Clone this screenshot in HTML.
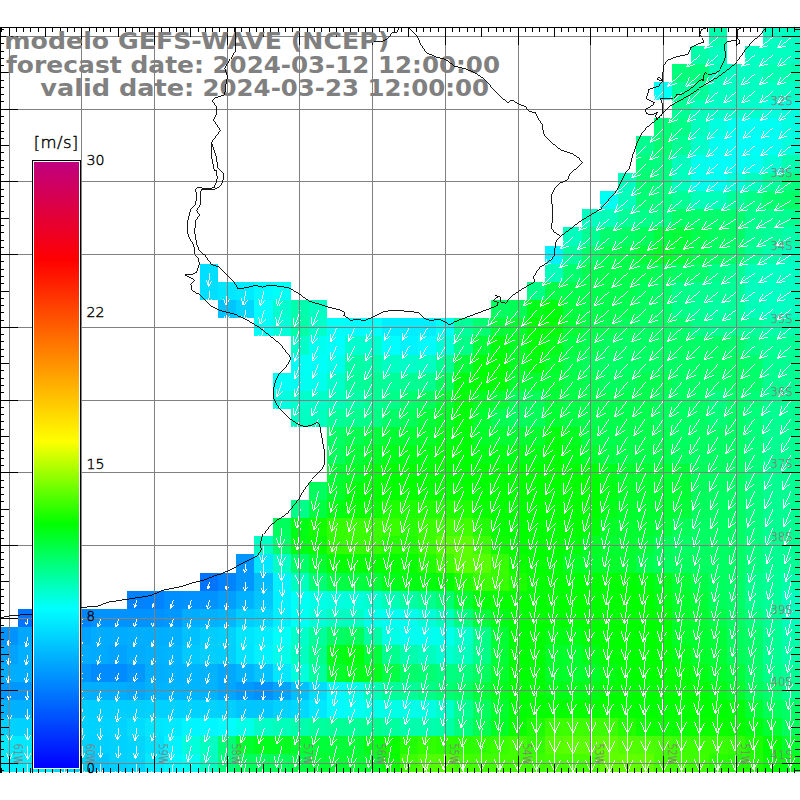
<!DOCTYPE html>
<html><head><meta charset="utf-8"><title>GEFS-WAVE</title>
<style>html,body{margin:0;padding:0;background:#fff;width:800px;height:800px;overflow:hidden}svg{display:block}text{font-family:"Liberation Sans",sans-serif}.t text{font-family:"DejaVu Sans","Liberation Sans",sans-serif;font-weight:bold;font-size:23.8px;fill:#808080}.g text{font-family:"DejaVu Sans Light","Liberation Sans",sans-serif;fill:#8a7c7c;stroke:#8a7c7c;stroke-width:0.25px;font-size:11.5px}.k text{font-family:"DejaVu Sans Light","Liberation Sans",sans-serif;fill:#000;stroke:#000;stroke-width:0.4px;font-size:14px}</style></head><body>
<svg width="800" height="800" viewBox="0 0 800 800">
<defs><linearGradient id="cb" x1="0" y1="0" x2="0" y2="1"><stop offset="0.0000" stop-color="#c0007f"/><stop offset="0.1620" stop-color="#ff0000"/><stop offset="0.4612" stop-color="#ffff00"/><stop offset="0.5289" stop-color="#80ff00"/><stop offset="0.5975" stop-color="#00ff00"/><stop offset="0.6661" stop-color="#00ff80"/><stop offset="0.7372" stop-color="#00ffff"/><stop offset="1.0000" stop-color="#0000ff"/></linearGradient><clipPath id="cp"><rect x="1" y="28" width="799" height="744"/></clipPath></defs>
<rect width="800" height="800" fill="#fff"/>
<g shape-rendering="crispEdges" clip-path="url(#cp)">
<rect x="709" y="28" width="18" height="18" fill="#00ffac"/><rect x="763" y="28" width="37" height="18" fill="#00ffc3"/>
<rect x="691" y="46" width="18" height="18" fill="#00ffa8"/><rect x="709" y="46" width="18" height="18" fill="#00ffbf"/><rect x="745" y="46" width="18" height="18" fill="#00ffc3"/><rect x="763" y="46" width="19" height="18" fill="#00ffc0"/><rect x="782" y="46" width="18" height="18" fill="#00ffc1"/>
<rect x="672" y="64" width="19" height="18" fill="#00ff7b"/><rect x="691" y="64" width="18" height="18" fill="#00ff7c"/><rect x="709" y="64" width="18" height="18" fill="#00ffb9"/><rect x="727" y="64" width="18" height="18" fill="#00ffc3"/><rect x="745" y="64" width="18" height="18" fill="#00ffc0"/><rect x="763" y="64" width="19" height="18" fill="#00ffb2"/><rect x="782" y="64" width="18" height="18" fill="#00ffaf"/>
<rect x="654" y="82" width="18" height="18" fill="#00fff6"/><rect x="672" y="82" width="19" height="18" fill="#00ff9b"/><rect x="691" y="82" width="18" height="18" fill="#00ff98"/><rect x="709" y="82" width="18" height="18" fill="#00ffbe"/><rect x="727" y="82" width="36" height="18" fill="#00ffc3"/><rect x="763" y="82" width="19" height="18" fill="#00ffc3"/><rect x="782" y="82" width="18" height="18" fill="#00ffc3"/>
<rect x="672" y="100" width="19" height="18" fill="#00ff95"/><rect x="691" y="100" width="18" height="18" fill="#00ffb9"/><rect x="709" y="100" width="18" height="18" fill="#00ffc6"/><rect x="727" y="100" width="18" height="18" fill="#00ffc8"/><rect x="745" y="100" width="18" height="18" fill="#00ffcb"/><rect x="763" y="100" width="19" height="18" fill="#00ffdb"/><rect x="782" y="100" width="18" height="18" fill="#00ffdc"/>
<rect x="654" y="118" width="18" height="18" fill="#00ff79"/><rect x="672" y="118" width="19" height="18" fill="#00ff88"/><rect x="691" y="118" width="18" height="18" fill="#00ffbe"/><rect x="709" y="118" width="18" height="18" fill="#00ffde"/><rect x="727" y="118" width="18" height="18" fill="#00fff0"/><rect x="745" y="118" width="37" height="18" fill="#00fff3"/><rect x="782" y="118" width="18" height="18" fill="#00ffe0"/>
<rect x="636" y="136" width="18" height="19" fill="#00ff8f"/><rect x="654" y="136" width="18" height="19" fill="#00ff72"/><rect x="672" y="136" width="19" height="19" fill="#00ff95"/><rect x="691" y="136" width="18" height="19" fill="#00ffc9"/><rect x="709" y="136" width="18" height="19" fill="#00fff0"/><rect x="727" y="136" width="36" height="19" fill="#00fff9"/><rect x="763" y="136" width="19" height="19" fill="#00fff3"/><rect x="782" y="136" width="18" height="19" fill="#00ffdc"/>
<rect x="636" y="155" width="18" height="18" fill="#00ff7b"/><rect x="654" y="155" width="18" height="18" fill="#00ff80"/><rect x="672" y="155" width="19" height="18" fill="#00ffbc"/><rect x="691" y="155" width="18" height="18" fill="#00ffed"/><rect x="709" y="155" width="18" height="18" fill="#00fff9"/><rect x="727" y="155" width="18" height="18" fill="#00fff6"/><rect x="745" y="155" width="18" height="18" fill="#00fff0"/><rect x="763" y="155" width="19" height="18" fill="#00ffd6"/><rect x="782" y="155" width="18" height="18" fill="#00ffaf"/>
<rect x="618" y="173" width="18" height="18" fill="#00ffbe"/><rect x="636" y="173" width="18" height="18" fill="#00ff72"/><rect x="654" y="173" width="18" height="18" fill="#00ff80"/><rect x="672" y="173" width="19" height="18" fill="#00ffbc"/><rect x="691" y="173" width="18" height="18" fill="#00ffed"/><rect x="709" y="173" width="18" height="18" fill="#00fff0"/><rect x="727" y="173" width="18" height="18" fill="#00ffd9"/><rect x="745" y="173" width="18" height="18" fill="#00ffbf"/><rect x="763" y="173" width="19" height="18" fill="#00ff98"/><rect x="782" y="173" width="18" height="18" fill="#00ff7f"/>
<rect x="600" y="191" width="18" height="18" fill="#00fff3"/><rect x="618" y="191" width="18" height="18" fill="#00ffb9"/><rect x="636" y="191" width="18" height="18" fill="#00ff74"/><rect x="654" y="191" width="18" height="18" fill="#00ff7d"/><rect x="672" y="191" width="19" height="18" fill="#00ff95"/><rect x="691" y="191" width="36" height="18" fill="#00ffb9"/><rect x="727" y="191" width="18" height="18" fill="#00ff98"/><rect x="745" y="191" width="18" height="18" fill="#00ff85"/><rect x="763" y="191" width="19" height="18" fill="#00ff6f"/><rect x="782" y="191" width="18" height="18" fill="#00ff68"/>
<rect x="582" y="209" width="18" height="18" fill="#00ffc0"/><rect x="600" y="209" width="18" height="18" fill="#00ffb9"/><rect x="618" y="209" width="18" height="18" fill="#00ff98"/><rect x="636" y="209" width="18" height="18" fill="#00ff89"/><rect x="654" y="209" width="18" height="18" fill="#00ff82"/><rect x="672" y="209" width="19" height="18" fill="#00ff67"/><rect x="691" y="209" width="18" height="18" fill="#00ff6a"/><rect x="709" y="209" width="36" height="18" fill="#00ff6c"/><rect x="745" y="209" width="18" height="18" fill="#00ff8b"/><rect x="763" y="209" width="19" height="18" fill="#00ff8e"/><rect x="782" y="209" width="18" height="18" fill="#00ff91"/>
<rect x="563" y="227" width="19" height="19" fill="#00ffbe"/><rect x="582" y="227" width="18" height="19" fill="#00ff93"/><rect x="600" y="227" width="18" height="19" fill="#00ff6f"/><rect x="618" y="227" width="18" height="19" fill="#00ff65"/><rect x="636" y="227" width="18" height="19" fill="#00ff5d"/><rect x="654" y="227" width="18" height="19" fill="#00ff3f"/><rect x="672" y="227" width="19" height="19" fill="#00ff3a"/><rect x="691" y="227" width="18" height="19" fill="#00ff4e"/><rect x="709" y="227" width="18" height="19" fill="#00ff5f"/><rect x="727" y="227" width="18" height="19" fill="#00ff67"/><rect x="745" y="227" width="18" height="19" fill="#00ff8e"/><rect x="763" y="227" width="19" height="19" fill="#00ff98"/><rect x="782" y="227" width="18" height="19" fill="#00ffa9"/>
<rect x="545" y="246" width="18" height="18" fill="#00f2ff"/><rect x="563" y="246" width="19" height="18" fill="#00ff9d"/><rect x="582" y="246" width="18" height="18" fill="#00ff68"/><rect x="600" y="246" width="18" height="18" fill="#00ff50"/><rect x="618" y="246" width="18" height="18" fill="#00ff4c"/><rect x="636" y="246" width="18" height="18" fill="#00ff3a"/><rect x="654" y="246" width="18" height="18" fill="#00ff29"/><rect x="672" y="246" width="19" height="18" fill="#00ff38"/><rect x="691" y="246" width="18" height="18" fill="#00ff4e"/><rect x="709" y="246" width="18" height="18" fill="#00ff65"/><rect x="727" y="246" width="18" height="18" fill="#00ff6c"/><rect x="745" y="246" width="18" height="18" fill="#00ff95"/><rect x="763" y="246" width="19" height="18" fill="#00ffab"/><rect x="782" y="246" width="18" height="18" fill="#00ffbf"/>
<rect x="200" y="264" width="18" height="18" fill="#00dfff"/><rect x="545" y="264" width="18" height="18" fill="#00ffb8"/><rect x="563" y="264" width="19" height="18" fill="#00ff6d"/><rect x="582" y="264" width="18" height="18" fill="#00ff50"/><rect x="600" y="264" width="36" height="18" fill="#00ff4c"/><rect x="636" y="264" width="18" height="18" fill="#00ff4e"/><rect x="654" y="264" width="18" height="18" fill="#00ff58"/><rect x="672" y="264" width="19" height="18" fill="#00ff62"/><rect x="691" y="264" width="18" height="18" fill="#00ff6a"/><rect x="709" y="264" width="18" height="18" fill="#00ff89"/><rect x="727" y="264" width="18" height="18" fill="#00ff93"/><rect x="745" y="264" width="18" height="18" fill="#00ffb9"/><rect x="763" y="264" width="19" height="18" fill="#00ffc0"/><rect x="782" y="264" width="18" height="18" fill="#00ffc3"/>
<rect x="200" y="282" width="18" height="18" fill="#00dfff"/><rect x="218" y="282" width="18" height="18" fill="#00e7ff"/><rect x="236" y="282" width="18" height="18" fill="#00ebff"/><rect x="254" y="282" width="19" height="18" fill="#00f8ff"/><rect x="273" y="282" width="18" height="18" fill="#00fff7"/><rect x="527" y="282" width="18" height="18" fill="#00ff86"/><rect x="545" y="282" width="18" height="18" fill="#00ff48"/><rect x="563" y="282" width="19" height="18" fill="#00ff4b"/><rect x="582" y="282" width="36" height="18" fill="#00ff4c"/><rect x="618" y="282" width="18" height="18" fill="#00ff4e"/><rect x="636" y="282" width="18" height="18" fill="#00ff5d"/><rect x="654" y="282" width="18" height="18" fill="#00ff67"/><rect x="672" y="282" width="19" height="18" fill="#00ff89"/><rect x="691" y="282" width="18" height="18" fill="#00ff8e"/><rect x="709" y="282" width="18" height="18" fill="#00ff95"/><rect x="727" y="282" width="18" height="18" fill="#00ff98"/><rect x="745" y="282" width="18" height="18" fill="#00ffbe"/><rect x="763" y="282" width="37" height="18" fill="#00ffc3"/>
<rect x="218" y="300" width="18" height="18" fill="#00c4ff"/><rect x="236" y="300" width="18" height="18" fill="#00d6ff"/><rect x="254" y="300" width="19" height="18" fill="#00ffff"/><rect x="273" y="300" width="18" height="18" fill="#00ffce"/><rect x="291" y="300" width="18" height="18" fill="#00ffad"/><rect x="309" y="300" width="18" height="18" fill="#00ffc2"/><rect x="491" y="300" width="18" height="18" fill="#00ff5f"/><rect x="509" y="300" width="18" height="18" fill="#00ff56"/><rect x="527" y="300" width="18" height="18" fill="#00ff18"/><rect x="545" y="300" width="18" height="18" fill="#00ff0b"/><rect x="563" y="300" width="19" height="18" fill="#00ff41"/><rect x="582" y="300" width="36" height="18" fill="#00ff4c"/><rect x="618" y="300" width="18" height="18" fill="#00ff50"/><rect x="636" y="300" width="18" height="18" fill="#00ff5f"/><rect x="654" y="300" width="18" height="18" fill="#00ff67"/><rect x="672" y="300" width="19" height="18" fill="#00ff89"/><rect x="691" y="300" width="18" height="18" fill="#00ff95"/><rect x="709" y="300" width="18" height="18" fill="#00ffa1"/><rect x="727" y="300" width="18" height="18" fill="#00ff9a"/><rect x="745" y="300" width="18" height="18" fill="#00ffb9"/><rect x="763" y="300" width="19" height="18" fill="#00ffc0"/><rect x="782" y="300" width="18" height="18" fill="#00ffc1"/>
<rect x="254" y="318" width="19" height="18" fill="#00fff7"/><rect x="273" y="318" width="18" height="18" fill="#00ffd8"/><rect x="291" y="318" width="18" height="18" fill="#00ffa7"/><rect x="309" y="318" width="18" height="18" fill="#00ffc9"/><rect x="327" y="318" width="18" height="18" fill="#00fff8"/><rect x="345" y="318" width="19" height="18" fill="#00fcff"/><rect x="364" y="318" width="18" height="18" fill="#00fff9"/><rect x="382" y="318" width="18" height="18" fill="#00eeff"/><rect x="400" y="318" width="18" height="18" fill="#00ecff"/><rect x="418" y="318" width="18" height="18" fill="#00eeff"/><rect x="436" y="318" width="18" height="18" fill="#00fff2"/><rect x="454" y="318" width="19" height="18" fill="#00ff99"/><rect x="473" y="318" width="18" height="18" fill="#00ff71"/><rect x="491" y="318" width="18" height="18" fill="#00ff38"/><rect x="509" y="318" width="18" height="18" fill="#00ff30"/><rect x="527" y="318" width="18" height="18" fill="#00ff03"/><rect x="545" y="318" width="18" height="18" fill="#00ff06"/><rect x="563" y="318" width="19" height="18" fill="#00ff35"/><rect x="582" y="318" width="18" height="18" fill="#00ff49"/><rect x="600" y="318" width="18" height="18" fill="#00ff50"/><rect x="618" y="318" width="18" height="18" fill="#00ff5d"/><rect x="636" y="318" width="36" height="18" fill="#00ff62"/><rect x="672" y="318" width="19" height="18" fill="#00ff6c"/><rect x="691" y="318" width="18" height="18" fill="#00ff89"/><rect x="709" y="318" width="18" height="18" fill="#00ff90"/><rect x="727" y="318" width="18" height="18" fill="#00ff8e"/><rect x="745" y="318" width="18" height="18" fill="#00ff9a"/><rect x="763" y="318" width="19" height="18" fill="#00ffa8"/><rect x="782" y="318" width="18" height="18" fill="#00ffab"/>
<rect x="291" y="336" width="18" height="19" fill="#00ffc8"/><rect x="309" y="336" width="18" height="19" fill="#00fff0"/><rect x="327" y="336" width="18" height="19" fill="#00ffff"/><rect x="345" y="336" width="19" height="19" fill="#00ffce"/><rect x="364" y="336" width="18" height="19" fill="#00ffce"/><rect x="382" y="336" width="18" height="19" fill="#00fdff"/><rect x="400" y="336" width="18" height="19" fill="#00f4ff"/><rect x="418" y="336" width="18" height="19" fill="#00fcff"/><rect x="436" y="336" width="18" height="19" fill="#00ffd6"/><rect x="454" y="336" width="19" height="19" fill="#00ff87"/><rect x="473" y="336" width="18" height="19" fill="#00ff38"/><rect x="491" y="336" width="18" height="19" fill="#00ff0e"/><rect x="509" y="336" width="18" height="19" fill="#00ff25"/><rect x="527" y="336" width="18" height="19" fill="#00ff06"/><rect x="545" y="336" width="18" height="19" fill="#00ff1a"/><rect x="563" y="336" width="19" height="19" fill="#00ff44"/><rect x="582" y="336" width="18" height="19" fill="#00ff51"/><rect x="600" y="336" width="18" height="19" fill="#00ff5e"/><rect x="618" y="336" width="73" height="19" fill="#00ff62"/><rect x="691" y="336" width="36" height="19" fill="#00ff67"/><rect x="727" y="336" width="18" height="19" fill="#00ff6c"/><rect x="745" y="336" width="18" height="19" fill="#00ff89"/><rect x="763" y="336" width="19" height="19" fill="#00ff95"/><rect x="782" y="336" width="18" height="19" fill="#00ff95"/>
<rect x="291" y="355" width="18" height="18" fill="#00fff4"/><rect x="309" y="355" width="18" height="18" fill="#00fff9"/><rect x="327" y="355" width="18" height="18" fill="#00ffeb"/><rect x="345" y="355" width="19" height="18" fill="#00ffa5"/><rect x="364" y="355" width="18" height="18" fill="#00ffab"/><rect x="382" y="355" width="18" height="18" fill="#00ffc3"/><rect x="400" y="355" width="18" height="18" fill="#00ffc8"/><rect x="418" y="355" width="18" height="18" fill="#00ffc1"/><rect x="436" y="355" width="18" height="18" fill="#00ff91"/><rect x="454" y="355" width="19" height="18" fill="#00ff3a"/><rect x="473" y="355" width="18" height="18" fill="#00ff08"/><rect x="491" y="355" width="18" height="18" fill="#00ff03"/><rect x="509" y="355" width="18" height="18" fill="#00ff25"/><rect x="527" y="355" width="18" height="18" fill="#00ff0e"/><rect x="545" y="355" width="18" height="18" fill="#00ff2b"/><rect x="563" y="355" width="19" height="18" fill="#00ff4c"/><rect x="582" y="355" width="18" height="18" fill="#00ff5d"/><rect x="600" y="355" width="36" height="18" fill="#00ff64"/><rect x="636" y="355" width="36" height="18" fill="#00ff62"/><rect x="672" y="355" width="19" height="18" fill="#00ff64"/><rect x="691" y="355" width="18" height="18" fill="#00ff62"/><rect x="709" y="355" width="36" height="18" fill="#00ff62"/><rect x="745" y="355" width="18" height="18" fill="#00ff6c"/><rect x="763" y="355" width="19" height="18" fill="#00ff8e"/><rect x="782" y="355" width="18" height="18" fill="#00ff93"/>
<rect x="273" y="373" width="18" height="18" fill="#00fff7"/><rect x="291" y="373" width="18" height="18" fill="#00fff3"/><rect x="309" y="373" width="18" height="18" fill="#00ffed"/><rect x="327" y="373" width="18" height="18" fill="#00ffc9"/><rect x="345" y="373" width="19" height="18" fill="#00ff9a"/><rect x="364" y="373" width="18" height="18" fill="#00ff95"/><rect x="382" y="373" width="18" height="18" fill="#00ff98"/><rect x="400" y="373" width="18" height="18" fill="#00ff93"/><rect x="418" y="373" width="18" height="18" fill="#00ff8e"/><rect x="436" y="373" width="18" height="18" fill="#00ff5d"/><rect x="454" y="373" width="19" height="18" fill="#00ff0e"/><rect x="473" y="373" width="18" height="18" fill="#00ff03"/><rect x="491" y="373" width="18" height="18" fill="#00ff08"/><rect x="509" y="373" width="36" height="18" fill="#00ff30"/><rect x="545" y="373" width="18" height="18" fill="#00ff33"/><rect x="563" y="373" width="19" height="18" fill="#00ff49"/><rect x="582" y="373" width="18" height="18" fill="#00ff51"/><rect x="600" y="373" width="36" height="18" fill="#00ff5e"/><rect x="636" y="373" width="18" height="18" fill="#00ff51"/><rect x="654" y="373" width="18" height="18" fill="#00ff53"/><rect x="672" y="373" width="19" height="18" fill="#00ff62"/><rect x="691" y="373" width="18" height="18" fill="#00ff64"/><rect x="709" y="373" width="18" height="18" fill="#00ff67"/><rect x="727" y="373" width="18" height="18" fill="#00ff62"/><rect x="745" y="373" width="18" height="18" fill="#00ff6a"/><rect x="763" y="373" width="19" height="18" fill="#00ff8e"/><rect x="782" y="373" width="18" height="18" fill="#00ff93"/>
<rect x="273" y="391" width="18" height="18" fill="#00ffde"/><rect x="291" y="391" width="18" height="18" fill="#00ffcb"/><rect x="309" y="391" width="18" height="18" fill="#00ffc8"/><rect x="327" y="391" width="18" height="18" fill="#00ffbb"/><rect x="345" y="391" width="19" height="18" fill="#00ffa6"/><rect x="364" y="391" width="18" height="18" fill="#00ff95"/><rect x="382" y="391" width="18" height="18" fill="#00ff89"/><rect x="400" y="391" width="18" height="18" fill="#00ff6c"/><rect x="418" y="391" width="18" height="18" fill="#00ff5d"/><rect x="436" y="391" width="18" height="18" fill="#00ff35"/><rect x="454" y="391" width="19" height="18" fill="#00ff08"/><rect x="473" y="391" width="18" height="18" fill="#00ff25"/><rect x="491" y="391" width="18" height="18" fill="#00ff35"/><rect x="509" y="391" width="36" height="18" fill="#00ff57"/><rect x="545" y="391" width="18" height="18" fill="#00ff38"/><rect x="563" y="391" width="19" height="18" fill="#00ff49"/><rect x="582" y="391" width="18" height="18" fill="#00ff4c"/><rect x="600" y="391" width="54" height="18" fill="#00ff4e"/><rect x="654" y="391" width="18" height="18" fill="#00ff5d"/><rect x="672" y="391" width="19" height="18" fill="#00ff62"/><rect x="691" y="391" width="18" height="18" fill="#00ff67"/><rect x="709" y="391" width="18" height="18" fill="#00ff81"/><rect x="727" y="391" width="18" height="18" fill="#00ff6a"/><rect x="745" y="391" width="18" height="18" fill="#00ff78"/><rect x="763" y="391" width="19" height="18" fill="#00ff90"/><rect x="782" y="391" width="18" height="18" fill="#00ff93"/>
<rect x="291" y="409" width="18" height="18" fill="#00ffc3"/><rect x="309" y="409" width="18" height="18" fill="#00ffbf"/><rect x="327" y="409" width="18" height="18" fill="#00ff98"/><rect x="345" y="409" width="19" height="18" fill="#00ff8e"/><rect x="364" y="409" width="18" height="18" fill="#00ff84"/><rect x="382" y="409" width="18" height="18" fill="#00ff67"/><rect x="400" y="409" width="18" height="18" fill="#00ff57"/><rect x="418" y="409" width="18" height="18" fill="#00ff3a"/><rect x="436" y="409" width="18" height="18" fill="#00ff28"/><rect x="454" y="409" width="19" height="18" fill="#00ff08"/><rect x="473" y="409" width="18" height="18" fill="#00ff30"/><rect x="491" y="409" width="18" height="18" fill="#00ff52"/><rect x="509" y="409" width="18" height="18" fill="#00ff5d"/><rect x="527" y="409" width="18" height="18" fill="#00ff57"/><rect x="545" y="409" width="18" height="18" fill="#00ff33"/><rect x="563" y="409" width="19" height="18" fill="#00ff44"/><rect x="582" y="409" width="54" height="18" fill="#00ff4c"/><rect x="636" y="409" width="18" height="18" fill="#00ff4e"/><rect x="654" y="409" width="18" height="18" fill="#00ff5d"/><rect x="672" y="409" width="19" height="18" fill="#00ff62"/><rect x="691" y="409" width="18" height="18" fill="#00ff64"/><rect x="709" y="409" width="18" height="18" fill="#00ff76"/><rect x="727" y="409" width="18" height="18" fill="#00ff67"/><rect x="745" y="409" width="18" height="18" fill="#00ff7b"/><rect x="763" y="409" width="19" height="18" fill="#00ff90"/><rect x="782" y="409" width="18" height="18" fill="#00ff93"/>
<rect x="327" y="427" width="18" height="18" fill="#00ff64"/><rect x="345" y="427" width="19" height="18" fill="#00ff4e"/><rect x="364" y="427" width="18" height="18" fill="#00ff3d"/><rect x="382" y="427" width="36" height="18" fill="#00ff32"/><rect x="418" y="427" width="18" height="18" fill="#00ff2b"/><rect x="436" y="427" width="18" height="18" fill="#00ff17"/><rect x="454" y="427" width="19" height="18" fill="#00ff06"/><rect x="473" y="427" width="18" height="18" fill="#00ff28"/><rect x="491" y="427" width="36" height="18" fill="#00ff32"/><rect x="527" y="427" width="18" height="18" fill="#00ff2d"/><rect x="545" y="427" width="18" height="18" fill="#00ff0b"/><rect x="563" y="427" width="19" height="18" fill="#00ff21"/><rect x="582" y="427" width="18" height="18" fill="#00ff44"/><rect x="600" y="427" width="54" height="18" fill="#00ff4c"/><rect x="654" y="427" width="18" height="18" fill="#00ff50"/><rect x="672" y="427" width="19" height="18" fill="#00ff60"/><rect x="691" y="427" width="18" height="18" fill="#00ff62"/><rect x="709" y="427" width="36" height="18" fill="#00ff64"/><rect x="745" y="427" width="18" height="18" fill="#00ff7b"/><rect x="763" y="427" width="19" height="18" fill="#00ff90"/><rect x="782" y="427" width="18" height="18" fill="#00ff93"/>
<rect x="327" y="445" width="18" height="19" fill="#00ff5a"/><rect x="345" y="445" width="19" height="19" fill="#00ff38"/><rect x="364" y="445" width="18" height="19" fill="#00ff28"/><rect x="382" y="445" width="18" height="19" fill="#00ff19"/><rect x="400" y="445" width="18" height="19" fill="#00ff17"/><rect x="418" y="445" width="18" height="19" fill="#00ff14"/><rect x="436" y="445" width="18" height="19" fill="#00ff03"/><rect x="454" y="445" width="19" height="19" fill="#00ff00"/><rect x="473" y="445" width="18" height="19" fill="#00ff14"/><rect x="491" y="445" width="36" height="19" fill="#00ff17"/><rect x="527" y="445" width="18" height="19" fill="#00ff14"/><rect x="545" y="445" width="18" height="19" fill="#00ff03"/><rect x="563" y="445" width="19" height="19" fill="#00ff17"/><rect x="582" y="445" width="18" height="19" fill="#00ff30"/><rect x="600" y="445" width="18" height="19" fill="#00ff44"/><rect x="618" y="445" width="36" height="19" fill="#00ff49"/><rect x="654" y="445" width="18" height="19" fill="#00ff4c"/><rect x="672" y="445" width="19" height="19" fill="#00ff5c"/><rect x="691" y="445" width="18" height="19" fill="#00ff62"/><rect x="709" y="445" width="18" height="19" fill="#00ff62"/><rect x="727" y="445" width="18" height="19" fill="#00ff64"/><rect x="745" y="445" width="18" height="19" fill="#00ff7b"/><rect x="763" y="445" width="19" height="19" fill="#00ff90"/><rect x="782" y="445" width="18" height="19" fill="#00ff93"/>
<rect x="327" y="464" width="18" height="18" fill="#00ff34"/><rect x="345" y="464" width="19" height="18" fill="#00ff25"/><rect x="364" y="464" width="18" height="18" fill="#00ff08"/><rect x="382" y="464" width="54" height="18" fill="#00ff00"/><rect x="436" y="464" width="37" height="18" fill="#02ff00"/><rect x="473" y="464" width="72" height="18" fill="#00ff00"/><rect x="545" y="464" width="18" height="18" fill="#02ff00"/><rect x="563" y="464" width="19" height="18" fill="#00ff01"/><rect x="582" y="464" width="18" height="18" fill="#00ff06"/><rect x="600" y="464" width="18" height="18" fill="#00ff1c"/><rect x="618" y="464" width="18" height="18" fill="#00ff30"/><rect x="636" y="464" width="36" height="18" fill="#00ff33"/><rect x="672" y="464" width="19" height="18" fill="#00ff3b"/><rect x="691" y="464" width="18" height="18" fill="#00ff5d"/><rect x="709" y="464" width="18" height="18" fill="#00ff62"/><rect x="727" y="464" width="18" height="18" fill="#00ff64"/><rect x="745" y="464" width="18" height="18" fill="#00ff7b"/><rect x="763" y="464" width="19" height="18" fill="#00ff90"/><rect x="782" y="464" width="18" height="18" fill="#00ff93"/>
<rect x="309" y="482" width="18" height="18" fill="#00ff5e"/><rect x="327" y="482" width="18" height="18" fill="#00ff2d"/><rect x="345" y="482" width="19" height="18" fill="#00ff08"/><rect x="364" y="482" width="18" height="18" fill="#02ff00"/><rect x="382" y="482" width="91" height="18" fill="#06ff00"/><rect x="473" y="482" width="109" height="18" fill="#02ff00"/><rect x="582" y="482" width="18" height="18" fill="#00ff00"/><rect x="600" y="482" width="18" height="18" fill="#00ff17"/><rect x="618" y="482" width="18" height="18" fill="#00ff2d"/><rect x="636" y="482" width="36" height="18" fill="#00ff30"/><rect x="672" y="482" width="19" height="18" fill="#00ff35"/><rect x="691" y="482" width="18" height="18" fill="#00ff5d"/><rect x="709" y="482" width="18" height="18" fill="#00ff62"/><rect x="727" y="482" width="18" height="18" fill="#00ff64"/><rect x="745" y="482" width="18" height="18" fill="#00ff7b"/><rect x="763" y="482" width="19" height="18" fill="#00ff90"/><rect x="782" y="482" width="18" height="18" fill="#00ff93"/>
<rect x="291" y="500" width="18" height="18" fill="#00ff88"/><rect x="309" y="500" width="18" height="18" fill="#00ff43"/><rect x="327" y="500" width="18" height="18" fill="#00ff13"/><rect x="345" y="500" width="19" height="18" fill="#06ff00"/><rect x="364" y="500" width="18" height="18" fill="#0cff00"/><rect x="382" y="500" width="36" height="18" fill="#1eff00"/><rect x="418" y="500" width="36" height="18" fill="#21ff00"/><rect x="454" y="500" width="19" height="18" fill="#1eff00"/><rect x="473" y="500" width="18" height="18" fill="#09ff00"/><rect x="491" y="500" width="91" height="18" fill="#02ff00"/><rect x="582" y="500" width="18" height="18" fill="#00ff00"/><rect x="600" y="500" width="18" height="18" fill="#00ff19"/><rect x="618" y="500" width="18" height="18" fill="#00ff2d"/><rect x="636" y="500" width="36" height="18" fill="#00ff30"/><rect x="672" y="500" width="19" height="18" fill="#00ff3a"/><rect x="691" y="500" width="18" height="18" fill="#00ff5d"/><rect x="709" y="500" width="18" height="18" fill="#00ff62"/><rect x="727" y="500" width="18" height="18" fill="#00ff64"/><rect x="745" y="500" width="18" height="18" fill="#00ff7b"/><rect x="763" y="500" width="19" height="18" fill="#00ff90"/><rect x="782" y="500" width="18" height="18" fill="#00ff93"/>
<rect x="273" y="518" width="18" height="18" fill="#00ff5d"/><rect x="291" y="518" width="18" height="18" fill="#00ff15"/><rect x="309" y="518" width="18" height="18" fill="#13ff00"/><rect x="327" y="518" width="18" height="18" fill="#34ff00"/><rect x="345" y="518" width="37" height="18" fill="#3aff00"/><rect x="382" y="518" width="18" height="18" fill="#37ff00"/><rect x="400" y="518" width="18" height="18" fill="#28ff00"/><rect x="418" y="518" width="18" height="18" fill="#3aff00"/><rect x="436" y="518" width="18" height="18" fill="#41ff00"/><rect x="454" y="518" width="19" height="18" fill="#3eff00"/><rect x="473" y="518" width="18" height="18" fill="#21ff00"/><rect x="491" y="518" width="18" height="18" fill="#06ff00"/><rect x="509" y="518" width="73" height="18" fill="#02ff00"/><rect x="582" y="518" width="18" height="18" fill="#00ff08"/><rect x="600" y="518" width="18" height="18" fill="#00ff28"/><rect x="618" y="518" width="36" height="18" fill="#00ff30"/><rect x="654" y="518" width="18" height="18" fill="#00ff3a"/><rect x="672" y="518" width="19" height="18" fill="#00ff57"/><rect x="691" y="518" width="36" height="18" fill="#00ff62"/><rect x="727" y="518" width="18" height="18" fill="#00ff64"/><rect x="745" y="518" width="18" height="18" fill="#00ff7b"/><rect x="763" y="518" width="19" height="18" fill="#00ff90"/><rect x="782" y="518" width="18" height="18" fill="#00ff93"/>
<rect x="254" y="536" width="19" height="18" fill="#00ffc3"/><rect x="273" y="536" width="18" height="18" fill="#00ff6c"/><rect x="291" y="536" width="18" height="18" fill="#00ff13"/><rect x="309" y="536" width="18" height="18" fill="#07ff00"/><rect x="327" y="536" width="18" height="18" fill="#34ff00"/><rect x="345" y="536" width="19" height="18" fill="#3aff00"/><rect x="364" y="536" width="18" height="18" fill="#37ff00"/><rect x="382" y="536" width="18" height="18" fill="#25ff00"/><rect x="400" y="536" width="18" height="18" fill="#21ff00"/><rect x="418" y="536" width="18" height="18" fill="#3eff00"/><rect x="436" y="536" width="18" height="18" fill="#58ff00"/><rect x="454" y="536" width="19" height="18" fill="#5cff00"/><rect x="473" y="536" width="18" height="18" fill="#3eff00"/><rect x="491" y="536" width="18" height="18" fill="#0fff00"/><rect x="509" y="536" width="54" height="18" fill="#02ff00"/><rect x="563" y="536" width="19" height="18" fill="#00ff08"/><rect x="582" y="536" width="18" height="18" fill="#00ff25"/><rect x="600" y="536" width="36" height="18" fill="#00ff30"/><rect x="636" y="536" width="18" height="18" fill="#00ff3a"/><rect x="654" y="536" width="18" height="18" fill="#00ff57"/><rect x="672" y="536" width="55" height="18" fill="#00ff62"/><rect x="727" y="536" width="18" height="18" fill="#00ff64"/><rect x="745" y="536" width="18" height="18" fill="#00ff7b"/><rect x="763" y="536" width="19" height="18" fill="#00ff90"/><rect x="782" y="536" width="18" height="18" fill="#00ff93"/>
<rect x="236" y="554" width="18" height="19" fill="#0095ff"/><rect x="254" y="554" width="19" height="19" fill="#00e7ff"/><rect x="273" y="554" width="18" height="19" fill="#00ffc3"/><rect x="291" y="554" width="18" height="19" fill="#00ff67"/><rect x="309" y="554" width="18" height="19" fill="#00ff30"/><rect x="327" y="554" width="18" height="19" fill="#00ff02"/><rect x="345" y="554" width="37" height="19" fill="#04ff00"/><rect x="382" y="554" width="18" height="19" fill="#06ff00"/><rect x="400" y="554" width="18" height="19" fill="#09ff00"/><rect x="418" y="554" width="18" height="19" fill="#21ff00"/><rect x="436" y="554" width="18" height="19" fill="#3eff00"/><rect x="454" y="554" width="19" height="19" fill="#59ff00"/><rect x="473" y="554" width="18" height="19" fill="#58ff00"/><rect x="491" y="554" width="18" height="19" fill="#37ff00"/><rect x="509" y="554" width="18" height="19" fill="#0cff00"/><rect x="527" y="554" width="18" height="19" fill="#02ff00"/><rect x="545" y="554" width="18" height="19" fill="#00ff03"/><rect x="563" y="554" width="19" height="19" fill="#00ff20"/><rect x="582" y="554" width="36" height="19" fill="#00ff2b"/><rect x="618" y="554" width="18" height="19" fill="#00ff30"/><rect x="636" y="554" width="18" height="19" fill="#00ff4d"/><rect x="654" y="554" width="18" height="19" fill="#00ff5a"/><rect x="672" y="554" width="19" height="19" fill="#00ff5d"/><rect x="691" y="554" width="18" height="19" fill="#00ff5f"/><rect x="709" y="554" width="18" height="19" fill="#00ff62"/><rect x="727" y="554" width="18" height="19" fill="#00ff64"/><rect x="745" y="554" width="18" height="19" fill="#00ff7d"/><rect x="763" y="554" width="19" height="19" fill="#00ff90"/><rect x="782" y="554" width="18" height="19" fill="#00ff95"/>
<rect x="200" y="573" width="18" height="18" fill="#0073ff"/><rect x="218" y="573" width="18" height="18" fill="#0083ff"/><rect x="236" y="573" width="18" height="18" fill="#0096ff"/><rect x="254" y="573" width="19" height="18" fill="#00bcff"/><rect x="273" y="573" width="18" height="18" fill="#00f2ff"/><rect x="291" y="573" width="18" height="18" fill="#00ffbe"/><rect x="309" y="573" width="18" height="18" fill="#00ff72"/><rect x="327" y="573" width="18" height="18" fill="#00ff45"/><rect x="345" y="573" width="19" height="18" fill="#00ff40"/><rect x="364" y="573" width="18" height="18" fill="#00ff38"/><rect x="382" y="573" width="18" height="18" fill="#00ff18"/><rect x="400" y="573" width="18" height="18" fill="#00ff10"/><rect x="418" y="573" width="18" height="18" fill="#00ff0a"/><rect x="436" y="573" width="18" height="18" fill="#00ff01"/><rect x="454" y="573" width="19" height="18" fill="#20ff00"/><rect x="473" y="573" width="18" height="18" fill="#3bff00"/><rect x="491" y="573" width="18" height="18" fill="#37ff00"/><rect x="509" y="573" width="18" height="18" fill="#1bff00"/><rect x="527" y="573" width="18" height="18" fill="#06ff00"/><rect x="545" y="573" width="18" height="18" fill="#02ff00"/><rect x="563" y="573" width="73" height="18" fill="#00ff03"/><rect x="636" y="573" width="18" height="18" fill="#00ff0b"/><rect x="654" y="573" width="18" height="18" fill="#00ff1f"/><rect x="672" y="573" width="19" height="18" fill="#00ff35"/><rect x="691" y="573" width="18" height="18" fill="#00ff49"/><rect x="709" y="573" width="18" height="18" fill="#00ff5f"/><rect x="727" y="573" width="18" height="18" fill="#00ff67"/><rect x="745" y="573" width="18" height="18" fill="#00ff8b"/><rect x="763" y="573" width="19" height="18" fill="#00ff95"/><rect x="782" y="573" width="18" height="18" fill="#00ffa9"/>
<rect x="127" y="591" width="18" height="18" fill="#0081ff"/><rect x="145" y="591" width="19" height="18" fill="#0083ff"/><rect x="164" y="591" width="18" height="18" fill="#008fff"/><rect x="182" y="591" width="18" height="18" fill="#0093ff"/><rect x="200" y="591" width="18" height="18" fill="#0092ff"/><rect x="218" y="591" width="18" height="18" fill="#009fff"/><rect x="236" y="591" width="18" height="18" fill="#00b1ff"/><rect x="254" y="591" width="19" height="18" fill="#00c5ff"/><rect x="273" y="591" width="18" height="18" fill="#00f0ff"/><rect x="291" y="591" width="18" height="18" fill="#00fff5"/><rect x="309" y="591" width="18" height="18" fill="#00ffe6"/><rect x="327" y="591" width="18" height="18" fill="#00ffde"/><rect x="345" y="591" width="19" height="18" fill="#00ffdb"/><rect x="364" y="591" width="18" height="18" fill="#00ffcf"/><rect x="382" y="591" width="18" height="18" fill="#00ffb5"/><rect x="400" y="591" width="18" height="18" fill="#00ffa1"/><rect x="418" y="591" width="18" height="18" fill="#00ff8c"/><rect x="436" y="591" width="18" height="18" fill="#00ff70"/><rect x="454" y="591" width="19" height="18" fill="#00ff32"/><rect x="473" y="591" width="18" height="18" fill="#00ff02"/><rect x="491" y="591" width="18" height="18" fill="#06ff00"/><rect x="509" y="591" width="18" height="18" fill="#06ff00"/><rect x="527" y="591" width="109" height="18" fill="#02ff00"/><rect x="636" y="591" width="18" height="18" fill="#00ff00"/><rect x="654" y="591" width="18" height="18" fill="#00ff14"/><rect x="672" y="591" width="19" height="18" fill="#00ff2d"/><rect x="691" y="591" width="18" height="18" fill="#00ff38"/><rect x="709" y="591" width="18" height="18" fill="#00ff5a"/><rect x="727" y="591" width="18" height="18" fill="#00ff67"/><rect x="745" y="591" width="18" height="18" fill="#00ff8b"/><rect x="763" y="591" width="19" height="18" fill="#00ff98"/><rect x="782" y="591" width="18" height="18" fill="#00ffbd"/>
<rect x="18" y="609" width="18" height="18" fill="#0074ff"/><rect x="36" y="609" width="19" height="18" fill="#0083ff"/><rect x="55" y="609" width="36" height="18" fill="#0084ff"/><rect x="91" y="609" width="18" height="18" fill="#0092ff"/><rect x="109" y="609" width="18" height="18" fill="#0093ff"/><rect x="127" y="609" width="37" height="18" fill="#0092ff"/><rect x="164" y="609" width="18" height="18" fill="#0097ff"/><rect x="182" y="609" width="18" height="18" fill="#00acff"/><rect x="200" y="609" width="18" height="18" fill="#00b1ff"/><rect x="218" y="609" width="18" height="18" fill="#00b6ff"/><rect x="236" y="609" width="18" height="18" fill="#00ceff"/><rect x="254" y="609" width="19" height="18" fill="#00d5ff"/><rect x="273" y="609" width="18" height="18" fill="#00efff"/><rect x="291" y="609" width="18" height="18" fill="#00fff5"/><rect x="309" y="609" width="18" height="18" fill="#00ffd9"/><rect x="327" y="609" width="18" height="18" fill="#00ffc1"/><rect x="345" y="609" width="19" height="18" fill="#00ffc2"/><rect x="364" y="609" width="18" height="18" fill="#00ffe8"/><rect x="382" y="609" width="18" height="18" fill="#00fff3"/><rect x="400" y="609" width="18" height="18" fill="#00ffee"/><rect x="418" y="609" width="18" height="18" fill="#00ffd9"/><rect x="436" y="609" width="18" height="18" fill="#00ffbc"/><rect x="454" y="609" width="19" height="18" fill="#00ff7e"/><rect x="473" y="609" width="18" height="18" fill="#00ff3a"/><rect x="491" y="609" width="18" height="18" fill="#00ff17"/><rect x="509" y="609" width="18" height="18" fill="#00ff00"/><rect x="527" y="609" width="18" height="18" fill="#02ff00"/><rect x="545" y="609" width="37" height="18" fill="#00ff00"/><rect x="582" y="609" width="72" height="18" fill="#02ff00"/><rect x="654" y="609" width="18" height="18" fill="#00ff06"/><rect x="672" y="609" width="19" height="18" fill="#00ff2b"/><rect x="691" y="609" width="18" height="18" fill="#00ff32"/><rect x="709" y="609" width="18" height="18" fill="#00ff49"/><rect x="727" y="609" width="18" height="18" fill="#00ff62"/><rect x="745" y="609" width="18" height="18" fill="#00ff7b"/><rect x="763" y="609" width="19" height="18" fill="#00ff95"/><rect x="782" y="609" width="18" height="18" fill="#00ffbd"/>
<rect x="1" y="627" width="17" height="18" fill="#0093ff"/><rect x="18" y="627" width="18" height="18" fill="#00a7ff"/><rect x="36" y="627" width="19" height="18" fill="#00acff"/><rect x="55" y="627" width="18" height="18" fill="#00aaff"/><rect x="73" y="627" width="18" height="18" fill="#00a3ff"/><rect x="91" y="627" width="36" height="18" fill="#00acff"/><rect x="127" y="627" width="37" height="18" fill="#00aeff"/><rect x="164" y="627" width="18" height="18" fill="#00afff"/><rect x="182" y="627" width="18" height="18" fill="#00c1ff"/><rect x="200" y="627" width="18" height="18" fill="#00cdff"/><rect x="218" y="627" width="18" height="18" fill="#00d1ff"/><rect x="236" y="627" width="18" height="18" fill="#00e6ff"/><rect x="254" y="627" width="19" height="18" fill="#00edff"/><rect x="273" y="627" width="18" height="18" fill="#00fff9"/><rect x="291" y="627" width="18" height="18" fill="#00ffc9"/><rect x="309" y="627" width="18" height="18" fill="#00ff9b"/><rect x="327" y="627" width="18" height="18" fill="#00ff64"/><rect x="345" y="627" width="19" height="18" fill="#00ff5b"/><rect x="364" y="627" width="18" height="18" fill="#00ffa5"/><rect x="382" y="627" width="18" height="18" fill="#00ffe6"/><rect x="400" y="627" width="18" height="18" fill="#00fff1"/><rect x="418" y="627" width="18" height="18" fill="#00fff0"/><rect x="436" y="627" width="18" height="18" fill="#00ffed"/><rect x="454" y="627" width="19" height="18" fill="#00ffcc"/><rect x="473" y="627" width="18" height="18" fill="#00ff87"/><rect x="491" y="627" width="18" height="18" fill="#00ff32"/><rect x="509" y="627" width="18" height="18" fill="#00ff03"/><rect x="527" y="627" width="18" height="18" fill="#00ff00"/><rect x="545" y="627" width="37" height="18" fill="#00ff14"/><rect x="582" y="627" width="18" height="18" fill="#00ff03"/><rect x="600" y="627" width="54" height="18" fill="#02ff00"/><rect x="654" y="627" width="18" height="18" fill="#00ff03"/><rect x="672" y="627" width="19" height="18" fill="#00ff28"/><rect x="691" y="627" width="18" height="18" fill="#00ff30"/><rect x="709" y="627" width="18" height="18" fill="#00ff38"/><rect x="727" y="627" width="18" height="18" fill="#00ff5d"/><rect x="745" y="627" width="18" height="18" fill="#00ff6a"/><rect x="763" y="627" width="19" height="18" fill="#00ff90"/><rect x="782" y="627" width="18" height="18" fill="#00ffab"/>
<rect x="1" y="645" width="17" height="19" fill="#00a2ff"/><rect x="18" y="645" width="18" height="19" fill="#00afff"/><rect x="36" y="645" width="19" height="19" fill="#00b1ff"/><rect x="55" y="645" width="18" height="19" fill="#00aeff"/><rect x="73" y="645" width="18" height="19" fill="#00acff"/><rect x="91" y="645" width="18" height="19" fill="#00aaff"/><rect x="109" y="645" width="18" height="19" fill="#00a3ff"/><rect x="127" y="645" width="18" height="19" fill="#00acff"/><rect x="145" y="645" width="19" height="19" fill="#00b1ff"/><rect x="164" y="645" width="18" height="19" fill="#00b5ff"/><rect x="182" y="645" width="18" height="19" fill="#00c9ff"/><rect x="200" y="645" width="18" height="19" fill="#00ceff"/><rect x="218" y="645" width="18" height="19" fill="#00cfff"/><rect x="236" y="645" width="18" height="19" fill="#00e4ff"/><rect x="254" y="645" width="19" height="19" fill="#00f2ff"/><rect x="273" y="645" width="18" height="19" fill="#00ffea"/><rect x="291" y="645" width="18" height="19" fill="#00ffc1"/><rect x="309" y="645" width="18" height="19" fill="#00ff89"/><rect x="327" y="645" width="18" height="19" fill="#00ff18"/><rect x="345" y="645" width="19" height="19" fill="#00ff0b"/><rect x="364" y="645" width="18" height="19" fill="#00ff3d"/><rect x="382" y="645" width="18" height="19" fill="#00ff8c"/><rect x="400" y="645" width="18" height="19" fill="#00ffac"/><rect x="418" y="645" width="18" height="19" fill="#00ffbf"/><rect x="436" y="645" width="18" height="19" fill="#00ffd1"/><rect x="454" y="645" width="19" height="19" fill="#00ffbc"/><rect x="473" y="645" width="18" height="19" fill="#00ff89"/><rect x="491" y="645" width="18" height="19" fill="#00ff35"/><rect x="509" y="645" width="36" height="19" fill="#00ff03"/><rect x="545" y="645" width="18" height="19" fill="#00ff28"/><rect x="563" y="645" width="19" height="19" fill="#00ff2b"/><rect x="582" y="645" width="18" height="19" fill="#00ff17"/><rect x="600" y="645" width="18" height="19" fill="#00ff03"/><rect x="618" y="645" width="36" height="19" fill="#02ff00"/><rect x="654" y="645" width="18" height="19" fill="#00ff00"/><rect x="672" y="645" width="19" height="19" fill="#00ff17"/><rect x="691" y="645" width="18" height="19" fill="#00ff2b"/><rect x="709" y="645" width="18" height="19" fill="#00ff35"/><rect x="727" y="645" width="18" height="19" fill="#00ff57"/><rect x="745" y="645" width="18" height="19" fill="#00ff67"/><rect x="763" y="645" width="19" height="19" fill="#00ff90"/><rect x="782" y="645" width="18" height="19" fill="#00ffa7"/>
<rect x="1" y="664" width="17" height="18" fill="#00adff"/><rect x="18" y="664" width="18" height="18" fill="#00aeff"/><rect x="36" y="664" width="19" height="18" fill="#00aaff"/><rect x="55" y="664" width="18" height="18" fill="#009bff"/><rect x="73" y="664" width="18" height="18" fill="#0096ff"/><rect x="91" y="664" width="18" height="18" fill="#008cff"/><rect x="109" y="664" width="18" height="18" fill="#008bff"/><rect x="127" y="664" width="18" height="18" fill="#0097ff"/><rect x="145" y="664" width="19" height="18" fill="#00aeff"/><rect x="164" y="664" width="18" height="18" fill="#00b1ff"/><rect x="182" y="664" width="18" height="18" fill="#00b5ff"/><rect x="200" y="664" width="18" height="18" fill="#00b3ff"/><rect x="218" y="664" width="18" height="18" fill="#00a9ff"/><rect x="236" y="664" width="18" height="18" fill="#00b4ff"/><rect x="254" y="664" width="19" height="18" fill="#00c3ff"/><rect x="273" y="664" width="18" height="18" fill="#00e7ff"/><rect x="291" y="664" width="18" height="18" fill="#00ffdd"/><rect x="309" y="664" width="18" height="18" fill="#00ff9d"/><rect x="327" y="664" width="18" height="18" fill="#00ff2d"/><rect x="345" y="664" width="19" height="18" fill="#00ff1b"/><rect x="364" y="664" width="18" height="18" fill="#00ff1d"/><rect x="382" y="664" width="18" height="18" fill="#00ff45"/><rect x="400" y="664" width="18" height="18" fill="#00ff6a"/><rect x="418" y="664" width="18" height="18" fill="#00ff72"/><rect x="436" y="664" width="18" height="18" fill="#00ff80"/><rect x="454" y="664" width="19" height="18" fill="#00ff7d"/><rect x="473" y="664" width="18" height="18" fill="#00ff5f"/><rect x="491" y="664" width="18" height="18" fill="#00ff2d"/><rect x="509" y="664" width="36" height="18" fill="#00ff03"/><rect x="545" y="664" width="18" height="18" fill="#00ff28"/><rect x="563" y="664" width="19" height="18" fill="#00ff2d"/><rect x="582" y="664" width="18" height="18" fill="#00ff28"/><rect x="600" y="664" width="18" height="18" fill="#00ff12"/><rect x="618" y="664" width="18" height="18" fill="#00ff00"/><rect x="636" y="664" width="36" height="18" fill="#02ff00"/><rect x="672" y="664" width="19" height="18" fill="#00ff03"/><rect x="691" y="664" width="18" height="18" fill="#00ff17"/><rect x="709" y="664" width="18" height="18" fill="#00ff2b"/><rect x="727" y="664" width="18" height="18" fill="#00ff3a"/><rect x="745" y="664" width="18" height="18" fill="#00ff62"/><rect x="763" y="664" width="19" height="18" fill="#00ff89"/><rect x="782" y="664" width="18" height="18" fill="#00ff95"/>
<rect x="1" y="682" width="17" height="18" fill="#0096ff"/><rect x="18" y="682" width="18" height="18" fill="#0097ff"/><rect x="36" y="682" width="19" height="18" fill="#009bff"/><rect x="55" y="682" width="18" height="18" fill="#00aeff"/><rect x="73" y="682" width="18" height="18" fill="#00b1ff"/><rect x="91" y="682" width="18" height="18" fill="#00afff"/><rect x="109" y="682" width="18" height="18" fill="#00aeff"/><rect x="127" y="682" width="18" height="18" fill="#00a8ff"/><rect x="145" y="682" width="19" height="18" fill="#00b3ff"/><rect x="164" y="682" width="36" height="18" fill="#00b5ff"/><rect x="200" y="682" width="18" height="18" fill="#00b3ff"/><rect x="218" y="682" width="18" height="18" fill="#00a6ff"/><rect x="236" y="682" width="18" height="18" fill="#0099ff"/><rect x="254" y="682" width="19" height="18" fill="#0091ff"/><rect x="273" y="682" width="18" height="18" fill="#00a3ff"/><rect x="291" y="682" width="18" height="18" fill="#00c0ff"/><rect x="309" y="682" width="18" height="18" fill="#00ddff"/><rect x="327" y="682" width="18" height="18" fill="#00fcff"/><rect x="345" y="682" width="19" height="18" fill="#00ffea"/><rect x="364" y="682" width="18" height="18" fill="#00ffb7"/><rect x="382" y="682" width="18" height="18" fill="#00ff99"/><rect x="400" y="682" width="18" height="18" fill="#00ff96"/><rect x="418" y="682" width="18" height="18" fill="#00ff86"/><rect x="436" y="682" width="18" height="18" fill="#00ff74"/><rect x="454" y="682" width="19" height="18" fill="#00ff64"/><rect x="473" y="682" width="18" height="18" fill="#00ff3d"/><rect x="491" y="682" width="18" height="18" fill="#00ff1c"/><rect x="509" y="682" width="36" height="18" fill="#00ff00"/><rect x="545" y="682" width="18" height="18" fill="#00ff14"/><rect x="563" y="682" width="19" height="18" fill="#00ff17"/><rect x="582" y="682" width="18" height="18" fill="#00ff14"/><rect x="600" y="682" width="18" height="18" fill="#00ff03"/><rect x="618" y="682" width="73" height="18" fill="#02ff00"/><rect x="691" y="682" width="18" height="18" fill="#00ff03"/><rect x="709" y="682" width="18" height="18" fill="#00ff17"/><rect x="727" y="682" width="18" height="18" fill="#00ff2d"/><rect x="745" y="682" width="18" height="18" fill="#00ff57"/><rect x="763" y="682" width="19" height="18" fill="#00ff6c"/><rect x="782" y="682" width="18" height="18" fill="#00ff8b"/>
<rect x="1" y="700" width="35" height="18" fill="#00b1ff"/><rect x="36" y="700" width="19" height="18" fill="#00b5ff"/><rect x="55" y="700" width="18" height="18" fill="#00cbff"/><rect x="73" y="700" width="54" height="18" fill="#00ceff"/><rect x="127" y="700" width="18" height="18" fill="#00ceff"/><rect x="145" y="700" width="37" height="18" fill="#00d1ff"/><rect x="182" y="700" width="36" height="18" fill="#00d2ff"/><rect x="218" y="700" width="18" height="18" fill="#00cfff"/><rect x="236" y="700" width="18" height="18" fill="#00c5ff"/><rect x="254" y="700" width="19" height="18" fill="#00c6ff"/><rect x="273" y="700" width="18" height="18" fill="#00d1ff"/><rect x="291" y="700" width="18" height="18" fill="#00d9ff"/><rect x="309" y="700" width="18" height="18" fill="#00e8ff"/><rect x="327" y="700" width="18" height="18" fill="#00fbff"/><rect x="345" y="700" width="19" height="18" fill="#00fff2"/><rect x="364" y="700" width="18" height="18" fill="#00ffe8"/><rect x="382" y="700" width="18" height="18" fill="#00ffe6"/><rect x="400" y="700" width="18" height="18" fill="#00ffe8"/><rect x="418" y="700" width="18" height="18" fill="#00ffe3"/><rect x="436" y="700" width="18" height="18" fill="#00ffc9"/><rect x="454" y="700" width="19" height="18" fill="#00ff91"/><rect x="473" y="700" width="18" height="18" fill="#00ff5d"/><rect x="491" y="700" width="18" height="18" fill="#00ff2d"/><rect x="509" y="700" width="18" height="18" fill="#00ff03"/><rect x="527" y="700" width="18" height="18" fill="#06ff00"/><rect x="545" y="700" width="55" height="18" fill="#06ff00"/><rect x="600" y="700" width="18" height="18" fill="#09ff00"/><rect x="618" y="700" width="18" height="18" fill="#06ff00"/><rect x="636" y="700" width="73" height="18" fill="#02ff00"/><rect x="709" y="700" width="18" height="18" fill="#00ff00"/><rect x="727" y="700" width="18" height="18" fill="#00ff08"/><rect x="745" y="700" width="18" height="18" fill="#00ff32"/><rect x="763" y="700" width="19" height="18" fill="#00ff57"/><rect x="782" y="700" width="18" height="18" fill="#00ff66"/>
<rect x="1" y="718" width="17" height="18" fill="#00d1ff"/><rect x="18" y="718" width="37" height="18" fill="#00d1ff"/><rect x="55" y="718" width="54" height="18" fill="#00d2ff"/><rect x="109" y="718" width="18" height="18" fill="#00d3ff"/><rect x="127" y="718" width="18" height="18" fill="#00dcff"/><rect x="145" y="718" width="19" height="18" fill="#00e6ff"/><rect x="164" y="718" width="18" height="18" fill="#00eaff"/><rect x="182" y="718" width="18" height="18" fill="#00f6ff"/><rect x="200" y="718" width="18" height="18" fill="#00f7ff"/><rect x="218" y="718" width="18" height="18" fill="#00feff"/><rect x="236" y="718" width="18" height="18" fill="#00ffe8"/><rect x="254" y="718" width="19" height="18" fill="#00ffc7"/><rect x="273" y="718" width="18" height="18" fill="#00ffbb"/><rect x="291" y="718" width="18" height="18" fill="#00ffad"/><rect x="309" y="718" width="18" height="18" fill="#00ff9d"/><rect x="327" y="718" width="18" height="18" fill="#00ff96"/><rect x="345" y="718" width="19" height="18" fill="#00ff94"/><rect x="364" y="718" width="18" height="18" fill="#00ff91"/><rect x="382" y="718" width="18" height="18" fill="#00ff9e"/><rect x="400" y="718" width="18" height="18" fill="#00ffac"/><rect x="418" y="718" width="18" height="18" fill="#00ffac"/><rect x="436" y="718" width="18" height="18" fill="#00ffa6"/><rect x="454" y="718" width="19" height="18" fill="#00ff7d"/><rect x="473" y="718" width="18" height="18" fill="#00ff51"/><rect x="491" y="718" width="18" height="18" fill="#00ff24"/><rect x="509" y="718" width="18" height="18" fill="#09ff00"/><rect x="527" y="718" width="18" height="18" fill="#1eff00"/><rect x="545" y="718" width="18" height="18" fill="#3bff00"/><rect x="563" y="718" width="37" height="18" fill="#3eff00"/><rect x="600" y="718" width="18" height="18" fill="#3bff00"/><rect x="618" y="718" width="18" height="18" fill="#23ff00"/><rect x="636" y="718" width="18" height="18" fill="#0eff00"/><rect x="654" y="718" width="18" height="18" fill="#0bff00"/><rect x="672" y="718" width="55" height="18" fill="#09ff00"/><rect x="727" y="718" width="18" height="18" fill="#06ff00"/><rect x="745" y="718" width="18" height="18" fill="#00ff13"/><rect x="763" y="718" width="19" height="18" fill="#00ff32"/><rect x="782" y="718" width="18" height="18" fill="#00ff5a"/>
<rect x="1" y="736" width="17" height="18" fill="#00eaff"/><rect x="18" y="736" width="18" height="18" fill="#00e9ff"/><rect x="36" y="736" width="19" height="18" fill="#00e6ff"/><rect x="55" y="736" width="18" height="18" fill="#00d4ff"/><rect x="73" y="736" width="18" height="18" fill="#00d2ff"/><rect x="91" y="736" width="18" height="18" fill="#00d0ff"/><rect x="109" y="736" width="18" height="18" fill="#00d2ff"/><rect x="127" y="736" width="18" height="18" fill="#00d4ff"/><rect x="145" y="736" width="19" height="18" fill="#00e1ff"/><rect x="164" y="736" width="18" height="18" fill="#00f1ff"/><rect x="182" y="736" width="18" height="18" fill="#00ffda"/><rect x="200" y="736" width="18" height="18" fill="#00ffc1"/><rect x="218" y="736" width="18" height="18" fill="#00ff77"/><rect x="236" y="736" width="18" height="18" fill="#00ff2e"/><rect x="254" y="736" width="19" height="18" fill="#00ff1d"/><rect x="273" y="736" width="18" height="18" fill="#00ff20"/><rect x="291" y="736" width="18" height="18" fill="#00ff2c"/><rect x="309" y="736" width="18" height="18" fill="#00ff38"/><rect x="327" y="736" width="18" height="18" fill="#00ff3a"/><rect x="345" y="736" width="19" height="18" fill="#00ff35"/><rect x="364" y="736" width="18" height="18" fill="#00ff15"/><rect x="382" y="736" width="18" height="18" fill="#09ff00"/><rect x="400" y="736" width="18" height="18" fill="#24ff00"/><rect x="418" y="736" width="18" height="18" fill="#32ff00"/><rect x="436" y="736" width="18" height="18" fill="#29ff00"/><rect x="454" y="736" width="19" height="18" fill="#2aff00"/><rect x="473" y="736" width="18" height="18" fill="#30ff00"/><rect x="491" y="736" width="18" height="18" fill="#37ff00"/><rect x="509" y="736" width="18" height="18" fill="#42ff00"/><rect x="527" y="736" width="18" height="18" fill="#31ff00"/><rect x="545" y="736" width="18" height="18" fill="#55ff00"/><rect x="563" y="736" width="37" height="18" fill="#5cff00"/><rect x="600" y="736" width="18" height="18" fill="#5eff00"/><rect x="618" y="736" width="18" height="18" fill="#52ff00"/><rect x="636" y="736" width="18" height="18" fill="#4dff00"/><rect x="654" y="736" width="18" height="18" fill="#47ff00"/><rect x="672" y="736" width="19" height="18" fill="#3cff00"/><rect x="691" y="736" width="18" height="18" fill="#3aff00"/><rect x="709" y="736" width="18" height="18" fill="#37ff00"/><rect x="727" y="736" width="18" height="18" fill="#34ff00"/><rect x="745" y="736" width="18" height="18" fill="#1cff00"/><rect x="763" y="736" width="19" height="18" fill="#00ff05"/><rect x="782" y="736" width="18" height="18" fill="#00ff2e"/>
<rect x="1" y="754" width="35" height="18" fill="#00ecff"/><rect x="36" y="754" width="19" height="18" fill="#00eaff"/><rect x="55" y="754" width="18" height="18" fill="#00d4ff"/><rect x="73" y="754" width="18" height="18" fill="#00d0ff"/><rect x="91" y="754" width="18" height="18" fill="#00c5ff"/><rect x="109" y="754" width="18" height="18" fill="#00d0ff"/><rect x="127" y="754" width="18" height="18" fill="#00d4ff"/><rect x="145" y="754" width="19" height="18" fill="#00e9ff"/><rect x="164" y="754" width="18" height="18" fill="#00f6ff"/><rect x="182" y="754" width="18" height="18" fill="#00fff2"/><rect x="200" y="754" width="18" height="18" fill="#00ffc1"/><rect x="218" y="754" width="18" height="18" fill="#00ff7d"/><rect x="236" y="754" width="18" height="18" fill="#00ff5c"/><rect x="254" y="754" width="19" height="18" fill="#00ff5a"/><rect x="273" y="754" width="18" height="18" fill="#00ff58"/><rect x="291" y="754" width="18" height="18" fill="#00ff45"/><rect x="309" y="754" width="18" height="18" fill="#00ff32"/><rect x="327" y="754" width="37" height="18" fill="#00ff30"/><rect x="364" y="754" width="18" height="18" fill="#00ff28"/><rect x="382" y="754" width="18" height="18" fill="#06ff00"/><rect x="400" y="754" width="18" height="18" fill="#3dff00"/><rect x="418" y="754" width="18" height="18" fill="#52ff00"/><rect x="436" y="754" width="18" height="18" fill="#51ff00"/><rect x="454" y="754" width="19" height="18" fill="#42ff00"/><rect x="473" y="754" width="36" height="18" fill="#41ff00"/><rect x="509" y="754" width="18" height="18" fill="#42ff00"/><rect x="527" y="754" width="18" height="18" fill="#3eff00"/><rect x="545" y="754" width="37" height="18" fill="#43ff00"/><rect x="582" y="754" width="18" height="18" fill="#46ff00"/><rect x="600" y="754" width="18" height="18" fill="#60ff00"/><rect x="618" y="754" width="18" height="18" fill="#62ff00"/><rect x="636" y="754" width="18" height="18" fill="#5fff00"/><rect x="654" y="754" width="18" height="18" fill="#45ff00"/><rect x="672" y="754" width="19" height="18" fill="#41ff00"/><rect x="691" y="754" width="18" height="18" fill="#3eff00"/><rect x="709" y="754" width="18" height="18" fill="#26ff00"/><rect x="727" y="754" width="18" height="18" fill="#24ff00"/><rect x="745" y="754" width="18" height="18" fill="#1fff00"/><rect x="763" y="754" width="19" height="18" fill="#03ff00"/><rect x="782" y="754" width="18" height="18" fill="#00ff17"/>
</g>
<g shape-rendering="crispEdges" clip-path="url(#cp)" fill="none" stroke="#fff" stroke-width="0.96"><path d="M9.5 636.7L8.3 645.5M10.7 641.8L8.3 645.5L7.0 641.2M9.5 654.9L8.1 664.6M10.8 660.5L8.1 664.6L6.7 659.9M9.5 673.0L8.0 683.4M10.9 679.0L8.0 683.4L6.5 678.4M9.5 691.2L8.7 700.2M11.0 696.3L8.7 700.2L7.2 696.0M9.5 709.4L9.5 720.1M11.8 715.2L9.5 720.1L7.2 715.2M9.5 727.5L9.5 740.2M12.2 734.5L9.5 740.2L6.8 734.5M9.5 745.7L9.5 759.8M12.5 753.4L9.5 759.8L6.5 753.4M9.5 763.9L9.5 778.1M12.5 771.7L9.5 778.1L6.5 771.7M27.7 618.5L26.3 625.4M28.4 622.6L26.3 625.4L25.4 622.0M27.7 636.7L26.0 646.6M28.9 642.5L26.0 646.6L24.7 641.8M27.7 654.9L25.9 665.3M28.9 660.9L25.9 665.3L24.5 660.2M27.7 673.0L26.0 683.4M28.9 679.1L26.0 683.4L24.5 678.3M27.7 691.2L26.7 700.3M29.0 696.4L26.7 700.3L25.2 696.0M27.7 709.4L27.5 720.1M29.8 715.3L27.5 720.1L25.3 715.2M27.7 727.5L27.6 740.2M30.3 734.5L27.6 740.2L24.9 734.4M27.7 745.7L27.7 759.8M30.6 753.4L27.7 759.8L24.7 753.4M27.7 763.9L27.7 778.1M30.7 771.7L27.7 778.1L24.7 771.7M45.9 618.5L44.1 626.3M46.5 623.1L44.1 626.3L43.2 622.4M45.9 636.7L43.9 646.9M46.9 642.7L43.9 646.9L42.6 641.9M45.9 654.9L43.8 665.4M47.0 661.0L43.8 665.4L42.5 660.2M45.9 673.0L43.9 683.2M46.9 679.0L43.9 683.2L42.7 678.2M45.9 691.2L44.6 700.5M47.1 696.6L44.6 700.5L43.2 696.0M45.9 709.4L45.5 720.3M47.9 715.4L45.5 720.3L43.3 715.3M45.9 727.5L45.6 740.2M48.4 734.5L45.6 740.2L43.1 734.4M45.9 745.7L45.9 759.6M48.8 753.3L45.9 759.6L42.9 753.3M45.9 763.9L45.9 778.0M48.8 771.6L45.9 778.0L42.9 771.6M64.0 618.5L62.1 626.3M64.6 623.2L62.1 626.3L61.3 622.3M64.0 636.7L61.8 646.8M65.0 642.6L61.8 646.8L60.7 641.7M64.0 654.9L61.8 665.1M65.0 660.9L61.8 665.1L60.6 660.0M64.0 673.0L62.0 682.2M64.9 678.5L62.0 682.2L61.0 677.6M64.0 691.2L62.3 701.6M65.3 697.2L62.3 701.6L60.9 696.5M64.0 709.4L63.4 721.6M66.3 716.2L63.4 721.6L61.1 715.9M64.0 727.5L63.7 740.2M66.5 734.5L63.7 740.2L61.2 734.4M64.0 745.7L64.0 758.6M66.7 752.7L64.0 758.6L61.3 752.7M64.0 763.9L64.0 776.7M66.7 770.9L64.0 776.7L61.3 770.9M82.2 618.5L80.1 626.2M82.7 623.2L80.1 626.2L79.4 622.3M82.2 636.7L79.9 646.3M83.0 642.4L79.9 646.3L78.9 641.4M82.2 654.9L79.8 665.0M83.0 660.9L79.8 665.0L78.7 659.9M82.2 673.0L80.1 681.9M82.9 678.3L80.1 681.9L79.2 677.4M82.2 691.2L80.2 701.7M83.3 697.4L80.2 701.7L78.9 696.5M82.2 709.4L81.3 721.8M84.4 716.4L81.3 721.8L79.1 716.0M82.2 727.5L81.8 740.2M84.6 734.6L81.8 740.2L79.3 734.4M82.2 745.7L82.2 758.4M84.9 752.7L82.2 758.4L79.5 752.7M82.2 763.9L82.2 776.5M84.9 770.8L82.2 776.5L79.5 770.8M100.4 618.5L97.8 627.0M100.8 623.7L97.8 627.0L97.2 622.6M100.4 636.7L97.7 646.7M101.0 642.7L97.7 646.7L96.8 641.6M100.4 654.9L97.7 664.8M101.0 660.9L97.7 664.8L96.8 659.7M100.4 673.0L98.2 681.3M100.9 678.0L98.2 681.3L97.4 677.1M100.4 691.2L98.2 701.6M101.4 697.3L98.2 701.6L97.0 696.4M100.4 709.4L99.3 721.8M102.4 716.4L99.3 721.8L97.2 715.9M100.4 727.5L99.8 740.2M102.7 734.6L99.8 740.2L97.4 734.4M100.4 745.7L100.4 758.3M103.0 752.6L100.4 758.3L97.7 752.6M100.4 763.9L100.4 775.8M102.9 770.4L100.4 775.8L97.9 770.4M118.6 618.5L116.0 627.1M119.0 623.7L116.0 627.1L115.3 622.6M118.6 636.7L115.8 646.7M119.2 642.8L115.8 646.7L114.9 641.6M118.6 654.9L115.9 664.3M119.1 660.6L115.9 664.3L115.1 659.5M118.6 673.0L116.3 681.1M119.0 677.9L116.3 681.1L115.6 677.0M118.6 691.2L116.3 701.5M119.5 697.3L116.3 701.5L115.1 696.3M118.6 709.4L116.8 721.7M120.2 716.5L116.8 721.7L115.0 715.8M118.6 727.5L117.4 740.3M120.6 734.7L117.4 740.3L115.2 734.3M118.6 745.7L118.0 758.4M120.9 752.8L118.0 758.4L115.6 752.5M118.6 763.9L118.1 776.5M121.0 770.9L118.1 776.5L115.6 770.7M136.7 600.3L134.4 607.8M137.0 604.9L134.4 607.8L133.9 603.9M136.7 618.5L134.2 627.0M137.1 623.7L134.2 627.0L133.5 622.6M136.7 636.7L133.9 646.8M137.3 642.8L133.9 646.8L133.0 641.6M136.7 654.9L133.9 664.9M137.3 660.9L133.9 664.9L133.1 659.7M136.7 673.0L134.2 681.9M137.2 678.4L134.2 681.9L133.5 677.3M136.7 691.2L134.4 701.1M137.5 697.1L134.4 701.1L133.4 696.1M136.7 709.4L134.3 721.6M138.0 716.6L134.3 721.6L132.8 715.6M136.7 727.5L134.9 740.7M138.5 735.1L134.9 740.7L132.9 734.4M136.7 745.7L135.7 758.5M138.8 752.9L135.7 758.5L133.4 752.5M136.7 763.9L135.8 776.7M138.9 771.1L135.8 776.7L133.5 770.7M154.9 600.3L152.6 607.9M155.3 605.0L152.6 607.9L152.0 604.0M154.9 618.5L152.4 627.0M155.3 623.7L152.4 627.0L151.7 622.6M154.9 636.7L152.0 646.8M155.4 642.8L152.0 646.8L151.2 641.6M154.9 654.9L151.9 665.1M155.4 661.1L151.9 665.1L151.1 659.8M154.9 673.0L152.0 683.1M155.4 679.2L152.0 683.1L151.2 677.9M154.9 691.2L152.3 701.7M155.7 697.5L152.3 701.7L151.3 696.4M154.9 709.4L151.8 721.6M155.8 716.7L151.8 721.6L150.6 715.4M154.9 727.5L152.3 741.2M156.4 735.6L152.3 741.2L150.6 734.5M154.9 745.7L153.2 759.2M156.8 753.5L153.2 759.2L151.1 752.8M154.9 763.9L153.4 777.9M157.1 771.9L153.4 777.9L151.1 771.3M173.1 600.3L170.6 608.7M173.5 605.4L170.6 608.7L170.0 604.4M173.1 618.5L170.5 627.3M173.5 623.9L170.5 627.3L169.8 622.8M173.1 636.7L170.0 646.9M173.6 642.9L170.0 646.9L169.3 641.6M173.1 654.9L170.0 665.3M173.6 661.2L170.0 665.3L169.2 659.9M173.1 673.0L170.0 683.3M173.6 679.3L170.0 683.3L169.2 678.0M173.1 691.2L170.4 701.8M173.8 697.6L170.4 701.8L169.4 696.4M173.1 709.4L169.4 721.5M173.6 716.8L169.4 721.5L168.5 715.2M173.1 727.5L169.8 741.3M174.2 735.8L169.8 741.3L168.4 734.4M173.1 745.7L170.6 760.1M174.8 754.1L170.6 760.1L168.7 753.1M173.1 763.9L171.0 778.6M175.1 772.4L171.0 778.6L168.8 771.5M191.2 600.3L188.8 608.9M191.7 605.5L188.8 608.9L188.1 604.5M191.2 618.5L188.3 628.5M191.8 624.6L188.3 628.5L187.5 623.3M191.2 636.7L187.8 647.9M191.7 643.5L187.8 647.9L187.0 642.1M191.2 654.9L187.7 666.5M191.8 662.0L187.7 666.5L186.8 660.5M191.2 673.0L188.1 683.5M191.7 679.4L188.1 683.5L187.3 678.1M191.2 691.2L188.4 701.8M191.9 697.6L188.4 701.8L187.5 696.4M191.2 709.4L186.9 721.3M191.4 716.8L186.9 721.3L186.4 715.0M191.2 727.5L187.2 741.8M192.0 736.2L187.2 741.8L186.0 734.5M191.2 745.7L187.8 761.9M192.8 755.3L187.8 761.9L185.9 753.9M191.2 763.9L188.5 779.5M193.0 773.0L188.5 779.5L186.5 771.8M209.4 273.2L208.6 286.6M211.8 280.7L208.6 286.6L206.2 280.4M209.4 291.4L208.6 304.8M211.8 298.9L208.6 304.8L206.1 298.5M209.4 582.1L208.0 589.0M210.1 586.2L208.0 589.0L207.2 585.6M209.4 600.3L207.4 609.0M210.1 605.5L207.4 609.0L206.5 604.6M209.4 618.5L206.8 628.9M210.2 624.7L206.8 628.9L205.8 623.6M209.4 636.7L206.1 648.6M210.1 643.9L206.1 648.6L205.1 642.5M209.4 654.9L206.1 666.9M210.1 662.1L206.1 666.9L205.1 660.7M209.4 673.0L206.5 683.5M210.0 679.3L206.5 683.5L205.6 678.1M209.4 691.2L207.1 701.8M210.4 697.5L207.1 701.8L205.9 696.5M209.4 709.4L205.0 721.3M209.5 716.8L205.0 721.3L204.5 715.0M209.4 727.5L205.2 741.9M210.1 736.3L205.2 741.9L204.1 734.5M209.4 745.7L205.6 762.7M210.9 755.8L205.6 762.7L203.8 754.2M209.4 763.9L206.3 781.0M211.3 773.9L206.3 781.0L204.1 772.6M227.6 291.4L225.9 305.2M229.6 299.3L225.9 305.2L223.7 298.6M227.6 309.5L226.1 321.3M229.3 316.3L226.1 321.3L224.3 315.7M227.6 582.1L226.4 590.0M228.6 586.7L226.4 590.0L225.3 586.2M227.6 600.3L225.8 609.8M228.6 605.9L225.8 609.8L224.6 605.1M227.6 618.5L225.2 629.3M228.6 624.9L225.2 629.3L224.0 623.9M227.6 636.7L224.5 648.9M228.5 644.0L224.5 648.9L223.3 642.7M227.6 654.9L224.5 667.0M228.5 662.1L224.5 667.0L223.4 660.8M227.6 673.0L225.1 683.0M228.3 679.0L225.1 683.0L224.1 677.9M227.6 691.2L225.8 701.1M228.7 697.0L225.8 701.1L224.5 696.2M227.6 709.4L223.2 721.1M227.6 716.7L223.2 721.1L222.7 714.8M227.6 727.5L223.1 742.2M228.2 736.5L223.1 742.2L222.0 734.6M227.6 745.7L223.1 765.0M229.2 757.2L223.1 765.0L221.1 755.3M227.6 763.9L223.9 783.2M229.7 775.2L223.9 783.2L221.5 773.7M245.8 291.4L243.2 305.3M247.3 299.5L243.2 305.3L241.4 298.4M245.8 309.5L243.3 322.2M247.1 317.0L243.3 322.2L241.8 316.0M245.8 564.0L244.7 573.0M247.1 569.1L244.7 573.0L243.3 568.7M245.8 582.1L244.8 591.2M247.2 587.3L244.8 591.2L243.3 586.9M245.8 600.3L244.2 610.9M247.2 606.5L244.2 610.9L242.7 605.8M245.8 618.5L243.5 630.7M247.1 625.7L243.5 630.7L242.0 624.7M245.8 636.7L242.7 650.2M247.0 644.7L242.7 650.2L241.2 643.4M245.8 654.9L242.7 668.3M246.9 662.8L242.7 668.3L241.3 661.6M245.8 673.0L243.4 683.6M246.7 679.3L243.4 683.6L242.2 678.3M245.8 691.2L244.5 700.4M247.0 696.5L244.5 700.4L243.1 696.0M245.8 709.4L241.5 720.5M245.8 716.4L241.5 720.5L241.1 714.5M245.8 727.5L240.9 742.9M246.4 737.0L240.9 742.9L239.9 734.9M245.8 745.7L240.5 767.2M247.4 758.6L240.5 767.2L238.4 756.3M245.8 763.9L241.8 784.2M247.9 775.8L241.8 784.2L239.3 774.1M264.0 291.4L260.3 305.9M265.1 300.1L260.3 305.9L258.9 298.5M264.0 309.5L260.1 324.4M265.0 318.5L260.1 324.4L258.7 316.9M264.0 327.7L259.9 342.8M264.9 336.8L259.9 342.8L258.6 335.1M264.0 545.8L262.1 563.1M266.6 555.6L262.1 563.1L259.3 554.9M264.0 564.0L262.9 577.9M266.3 571.8L262.9 577.9L260.4 571.3M264.0 582.1L263.4 593.5M266.0 588.5L263.4 593.5L261.2 588.2M264.0 600.3L262.7 612.2M265.8 607.1L262.7 612.2L260.8 606.6M264.0 618.5L262.0 631.3M265.6 625.9L262.0 631.3L260.2 625.1M264.0 636.7L261.1 650.7M265.4 644.9L261.1 650.7L259.4 643.7M264.0 654.9L261.1 669.2M265.4 663.3L261.1 669.2L259.3 662.1M264.0 673.0L261.6 684.6M265.1 679.8L261.6 684.6L260.2 678.9M264.0 691.2L263.1 700.0M265.4 696.2L263.1 700.0L261.6 695.8M264.0 709.4L259.5 720.5M263.9 716.4L259.5 720.5L259.2 714.5M264.0 727.5L258.6 743.9M264.5 737.6L258.6 743.9L257.6 735.4M264.0 745.7L258.3 767.6M265.5 758.9L258.3 767.6L256.2 756.5M264.0 763.9L259.8 784.2M266.0 775.9L259.8 784.2L257.4 774.1M282.1 291.4L277.4 306.3M282.7 300.5L277.4 306.3L276.4 298.5M282.1 309.5L276.9 325.7M282.7 319.5L276.9 325.7L275.8 317.2M282.1 327.7L276.9 343.5M282.6 337.5L276.9 343.5L275.9 335.2M282.1 382.2L276.9 397.0M282.4 391.4L276.9 397.0L276.1 389.2M282.1 400.4L276.5 415.9M282.3 410.1L276.5 415.9L275.8 407.7M282.1 527.6L279.5 548.1M285.0 539.4L279.5 548.1L276.4 538.3M282.1 545.8L280.4 565.9M285.4 557.1L280.4 565.9L277.0 556.4M282.1 564.0L281.4 581.3M285.4 573.6L281.4 581.3L278.1 573.3M282.1 582.1L282.1 596.7M285.2 590.1L282.1 596.7L279.0 590.1M282.1 600.3L281.3 614.8M284.7 608.4L281.3 614.8L278.6 608.1M282.1 618.5L280.4 632.8M284.2 626.7L280.4 632.8L278.2 626.0M282.1 636.7L279.4 652.0M283.9 645.6L279.4 652.0L277.4 644.5M282.1 654.9L279.3 670.7M283.9 664.1L279.3 670.7L277.3 662.9M282.1 673.0L279.7 686.8M283.7 681.1L279.7 686.8L277.9 680.0M282.1 691.2L281.6 701.0M283.9 696.7L281.6 701.0L279.8 696.5M282.1 709.4L277.4 721.1M282.0 716.8L277.4 721.1L277.1 714.8M282.1 727.5L276.5 744.2M282.6 737.9L276.5 744.2L275.5 735.5M282.1 745.7L276.3 767.5M283.5 758.9L276.3 767.5L274.3 756.4M282.1 763.9L277.8 784.2M284.1 775.9L277.8 784.2L275.5 774.1M300.3 309.5L294.2 326.5M300.5 320.1L294.2 326.5L293.4 317.5M300.3 327.7L294.0 344.8M300.5 338.4L294.0 344.8L293.2 335.7M300.3 345.9L294.3 362.0M300.4 356.0L294.3 362.0L293.6 353.4M300.3 364.1L294.7 378.8M300.4 373.3L294.7 378.8L294.1 370.9M300.3 382.2L294.6 397.0M300.3 391.5L294.6 397.0L294.1 389.1M300.3 400.4L294.1 416.3M300.3 410.4L294.1 416.3L293.5 407.8M300.3 418.6L294.4 434.9M300.5 428.7L294.4 434.9L293.6 426.3M300.3 509.4L296.7 528.4M302.3 520.6L296.7 528.4L294.3 519.0M300.3 527.6L297.0 550.3M303.3 540.7L297.0 550.3L293.7 539.3M300.3 545.8L297.9 568.6M303.8 558.8L297.9 568.6L294.2 557.8M300.3 564.0L299.1 584.2M303.9 575.3L299.1 584.2L295.3 574.8M300.3 582.1L300.0 599.6M303.8 591.8L300.0 599.6L296.4 591.7M300.3 600.3L299.1 616.0M303.0 609.1L299.1 616.0L296.3 608.6M300.3 618.5L298.2 634.1M302.4 627.5L298.2 634.1L295.9 626.6M300.3 636.7L297.0 653.5M302.1 646.6L297.0 653.5L295.0 645.2M300.3 654.9L297.0 672.0M302.1 664.9L297.0 672.0L294.9 663.5M300.3 673.0L297.2 689.2M302.0 682.5L297.2 689.2L295.2 681.2M300.3 691.2L299.1 702.8M302.1 697.8L299.1 702.8L297.2 697.3M300.3 709.4L295.5 721.6M300.2 717.1L295.5 721.6L295.1 715.0M300.3 727.5L294.7 744.7M300.9 738.1L294.7 744.7L293.6 735.8M300.3 745.7L294.8 767.2M301.8 758.6L294.8 767.2L292.8 756.3M300.3 763.9L296.0 784.8M302.4 776.3L296.0 784.8L293.5 774.4M318.5 309.5L312.1 325.7M318.4 319.7L312.1 325.7L311.6 317.0M318.5 327.7L312.1 343.6M318.3 337.8L312.1 343.6L311.6 335.1M318.5 345.9L312.5 360.6M318.3 355.2L312.5 360.6L312.1 352.7M318.5 364.1L312.6 378.5M318.3 373.2L312.6 378.5L312.2 370.7M318.5 382.2L312.3 397.0M318.2 391.6L312.3 397.0L312.0 389.0M318.5 400.4L311.8 416.2M318.2 410.5L311.8 416.2L311.5 407.7M318.5 418.6L312.2 434.9M318.5 428.8L312.2 434.9L311.6 426.2M318.5 491.3L313.4 511.2M319.9 503.3L313.4 511.2L311.5 501.1M318.5 509.4L314.0 530.4M320.5 521.9L314.0 530.4L311.6 520.0M318.5 527.6L314.5 551.4M321.3 541.5L314.5 551.4L311.3 539.8M318.5 545.8L315.6 569.4M321.9 559.3L315.6 569.4L311.9 558.1M318.5 564.0L316.8 585.9M322.2 576.4L316.8 585.9L312.9 575.6M318.5 582.1L317.8 602.1M322.3 593.2L317.8 602.1L313.9 592.9M318.5 600.3L317.0 616.5M321.1 609.5L317.0 616.5L314.2 608.8M318.5 618.5L316.0 635.0M320.6 628.0L316.0 635.0L313.6 627.0M318.5 636.7L314.6 654.9M320.2 647.5L314.6 654.9L312.5 645.8M318.5 654.9L314.5 673.7M320.3 666.0L314.5 673.7L312.3 664.3M318.5 673.0L314.6 691.2M320.2 683.8L314.6 691.2L312.5 682.2M318.5 691.2L316.5 704.4M320.2 698.9L316.5 704.4L314.6 698.0M318.5 709.4L313.4 722.4M318.5 717.6L313.4 722.4L312.9 715.5M318.5 727.5L312.9 745.3M319.2 738.4L312.9 745.3L311.7 736.1M318.5 745.7L313.3 766.9M320.1 758.4L313.3 766.9L311.2 756.2M318.5 763.9L314.2 785.5M320.7 776.6L314.2 785.5L311.6 774.8M336.7 327.7L330.4 342.0M336.3 336.9L330.4 342.0L330.2 334.2M336.7 345.9L330.5 360.0M336.2 354.9L330.5 360.0L330.3 352.3M336.7 364.1L330.1 378.7M336.2 373.5L330.1 378.7L330.0 370.7M336.7 382.2L329.7 397.9M336.1 392.3L329.7 397.9L329.5 389.3M336.7 400.4L329.4 416.5M336.1 410.7L329.4 416.5L329.3 407.7M336.7 418.6L329.5 435.9M336.4 429.6L329.5 435.9L329.1 426.5M336.7 436.8L329.4 455.8M336.7 448.7L329.4 455.8L328.7 445.7M336.7 454.9L329.9 474.5M337.1 467.1L329.9 474.5L328.8 464.2M336.7 473.1L330.1 494.0M337.5 485.9L330.1 494.0L328.7 483.2M336.7 491.3L330.7 512.6M337.9 504.2L330.7 512.6L328.9 501.7M336.7 509.4L331.5 531.8M338.5 522.8L331.5 531.8L329.1 520.6M336.7 527.6L332.0 552.4M339.4 542.1L332.0 552.4L328.9 540.2M336.7 545.8L333.1 570.7M340.0 560.2L333.1 570.7L329.5 558.7M336.7 564.0L334.4 587.3M340.4 577.2L334.4 587.3L330.5 576.3M336.7 582.1L335.5 603.5M340.5 594.1L335.5 603.5L331.5 593.6M336.7 600.3L334.8 616.7M339.1 609.7L334.8 616.7L332.2 608.9M336.7 618.5L333.7 635.7M338.7 628.5L333.7 635.7L331.4 627.3M336.7 636.7L332.1 656.5M338.3 648.5L332.1 656.5L329.9 646.6M336.7 654.9L331.5 677.0M338.5 668.1L331.5 677.0L329.2 665.9M336.7 673.0L331.7 694.6M338.5 685.9L331.7 694.6L329.4 683.8M336.7 691.2L333.6 706.1M338.2 700.0L333.6 706.1L331.9 698.7M336.7 709.4L331.3 723.6M336.7 718.3L331.3 723.6L330.7 716.0M336.7 727.5L331.1 745.6M337.4 738.6L331.1 745.6L329.8 736.2M336.7 745.7L331.7 766.9M338.4 758.3L331.7 766.9L329.5 756.2M336.7 763.9L332.5 785.5M339.0 776.6L332.5 785.5L329.8 774.9M354.8 327.7L348.3 341.5M354.2 336.6L348.3 341.5L348.4 333.9M354.8 345.9L347.5 361.2M354.1 355.8L347.5 361.2L347.6 352.7M354.8 364.1L347.0 380.6M354.0 374.8L347.0 380.6L347.0 371.4M354.8 382.2L346.8 399.1M354.0 393.1L346.8 399.1L346.9 389.7M354.8 400.4L346.9 416.9M354.0 411.1L346.9 416.9L347.0 407.8M354.8 418.6L347.1 436.0M354.3 429.7L347.1 436.0L346.9 426.5M354.8 436.8L346.9 456.3M354.6 449.1L346.9 456.3L346.4 445.8M354.8 454.9L347.3 475.4M355.0 467.7L347.3 475.4L346.4 464.5M354.8 473.1L347.7 494.3M355.4 486.2L347.7 494.3L346.5 483.2M354.8 491.3L348.1 513.5M355.9 504.9L348.1 513.5L346.4 502.0M354.8 509.4L349.0 532.4M356.5 523.3L349.0 532.4L346.8 520.8M354.8 527.6L349.7 552.4M357.3 542.3L349.7 552.4L346.8 540.1M354.8 545.8L350.8 570.8M357.9 560.3L350.8 570.8L347.3 558.6M354.8 564.0L352.1 587.5M358.3 577.4L352.1 587.5L348.4 576.2M354.8 582.1L353.3 603.6M358.5 594.2L353.3 603.6L349.5 593.6M354.8 600.3L352.7 616.7M357.1 609.7L352.7 616.7L350.2 608.9M354.8 618.5L351.6 635.6M356.7 628.5L351.6 635.6L349.5 627.2M354.8 636.7L349.8 656.7M356.3 648.7L349.8 656.7L347.8 646.6M354.8 654.9L349.2 677.3M356.5 668.3L349.2 677.3L347.0 666.0M354.8 673.0L349.3 695.0M356.5 686.2L349.3 695.0L347.2 683.9M354.8 691.2L350.9 706.8M356.0 700.6L350.9 706.8L349.4 698.9M354.8 709.4L349.3 724.2M354.9 718.6L349.3 724.2L348.7 716.3M354.8 727.5L349.5 745.7M355.7 738.6L349.5 745.7L348.1 736.3M354.8 745.7L350.1 767.1M356.7 758.4L350.1 767.1L347.7 756.4M354.8 763.9L350.8 785.6M357.2 776.6L350.8 785.6L348.1 774.9M373.0 327.7L365.9 341.6M372.1 336.8L365.9 341.6L366.2 333.8M373.0 345.9L365.3 361.0M372.0 355.8L365.3 361.0L365.6 352.5M373.0 364.1L364.8 380.2M371.9 374.6L364.8 380.2L365.1 371.1M373.0 382.2L364.4 399.0M371.9 393.2L364.4 399.0L364.8 389.6M373.0 400.4L364.4 417.2M371.9 411.4L364.4 417.2L364.8 407.8M373.0 418.6L364.7 436.1M372.2 429.9L364.7 436.1L364.8 426.4M373.0 436.8L364.4 456.6M372.5 449.4L364.4 456.6L364.1 445.8M373.0 454.9L364.8 475.6M372.9 468.0L364.8 475.6L364.1 464.5M373.0 473.1L365.1 495.0M373.3 486.7L365.1 495.0L364.1 483.4M373.0 491.3L365.7 513.7M373.8 505.1L365.7 513.7L364.3 502.0M373.0 509.4L366.7 532.5M374.4 523.4L366.7 532.5L364.7 520.7M373.0 527.6L367.4 552.3M375.2 542.3L367.4 552.3L364.7 540.0M373.0 545.8L368.5 570.6M375.8 560.3L368.5 570.6L365.3 558.4M373.0 564.0L369.9 587.4M376.2 577.4L369.9 587.4L366.3 576.1M373.0 582.1L371.1 603.8M376.5 594.4L371.1 603.8L367.4 593.6M373.0 600.3L370.5 617.1M375.2 610.0L370.5 617.1L368.1 609.0M373.0 618.5L369.7 634.3M374.6 627.8L369.7 634.3L367.9 626.5M373.0 636.7L368.3 654.4M374.1 647.4L368.3 654.4L366.7 645.4M373.0 654.9L367.4 675.7M374.4 667.5L367.4 675.7L365.5 665.1M373.0 673.0L367.1 694.9M374.4 686.2L367.1 694.9L365.2 683.7M373.0 691.2L367.8 708.2M373.7 701.6L367.8 708.2L366.6 699.4M373.0 709.4L367.5 724.5M373.2 718.8L367.5 724.5L366.8 716.5M373.0 727.5L367.8 745.8M374.0 738.6L367.8 745.8L366.3 736.4M373.0 745.7L368.2 768.1M375.1 759.0L368.2 768.1L365.7 757.0M373.0 763.9L369.1 785.8M375.5 776.7L369.1 785.8L366.2 775.1M391.2 327.7L384.4 340.4M390.2 336.1L384.4 340.4L384.8 333.2M391.2 345.9L384.0 359.4M390.1 354.8L384.0 359.4L384.4 351.7M391.2 364.1L383.0 379.3M389.9 374.1L383.0 379.3L383.5 370.7M391.2 382.2L382.3 398.8M389.8 393.1L382.3 398.8L382.8 389.4M391.2 400.4L382.1 417.4M389.8 411.6L382.1 417.4L382.6 407.8M391.2 418.6L382.1 436.8M390.1 430.4L382.1 436.8L382.4 426.6M391.2 436.8L382.0 456.7M390.4 449.6L382.0 456.7L382.0 445.7M391.2 454.9L382.4 475.9M390.8 468.2L382.4 475.9L381.9 464.5M391.2 473.1L382.7 495.1M391.2 486.9L382.7 495.1L381.9 483.3M391.2 491.3L383.4 513.7M391.6 505.2L383.4 513.7L382.2 501.9M391.2 509.4L384.2 532.9M392.3 523.7L384.2 532.9L382.4 520.8M391.2 527.6L385.2 552.1M393.1 542.3L385.2 552.1L382.7 539.8M391.2 545.8L386.5 570.0M393.7 560.0L386.5 570.0L383.5 558.0M391.2 564.0L387.7 587.4M394.3 577.5L387.7 587.4L384.3 576.1M391.2 582.1L389.0 604.8M394.7 595.0L389.0 604.8L385.2 594.1M391.2 600.3L388.5 617.9M393.5 610.5L388.5 617.9L386.0 609.4M391.2 618.5L388.0 634.0M392.7 627.6L388.0 634.0L386.2 626.3M391.2 636.7L387.1 652.4M392.3 646.1L387.1 652.4L385.7 644.4M391.2 654.9L386.4 673.4M392.5 666.0L386.4 673.4L384.7 664.0M391.2 673.0L385.9 693.7M392.6 685.5L385.9 693.7L383.9 683.2M391.2 691.2L386.0 709.2M392.2 702.1L386.0 709.2L384.5 700.0M391.2 709.4L386.3 724.8M391.8 718.9L386.3 724.8L385.2 716.8M391.2 727.5L386.7 745.6M392.5 738.3L386.7 745.6L384.9 736.5M391.2 745.7L387.0 769.1M393.8 759.4L387.0 769.1L383.9 757.6M391.2 763.9L387.6 787.3M394.2 777.5L387.6 787.3L384.3 776.0M409.4 327.7L402.4 340.1M408.2 336.0L402.4 340.1L402.9 333.0M409.4 345.9L402.2 358.7M408.1 354.4L402.2 358.7L402.7 351.4M409.4 364.1L401.0 379.1M407.9 374.0L401.0 379.1L401.6 370.5M409.4 382.2L400.1 398.7M407.8 393.2L400.1 398.7L400.8 389.3M409.4 400.4L399.5 418.0M407.7 412.1L399.5 418.0L400.2 407.9M409.4 418.6L399.7 437.0M408.0 430.7L399.7 437.0L400.2 426.6M409.4 436.8L399.8 456.5M408.3 449.6L399.8 456.5L399.9 445.5M409.4 454.9L400.1 475.8M408.7 468.3L400.1 475.8L399.9 464.4M409.4 473.1L400.5 494.9M409.1 486.9L400.5 494.9L399.9 483.1M409.4 491.3L401.1 513.5M409.5 505.2L401.1 513.5L400.1 501.7M409.4 509.4L402.0 532.8M410.2 523.8L402.0 532.8L400.4 520.6M409.4 527.6L403.1 551.6M411.0 542.1L403.1 551.6L400.8 539.4M409.4 545.8L404.3 569.8M411.7 560.0L404.3 569.8L401.5 557.9M409.4 564.0L405.6 587.5M412.3 577.6L405.6 587.5L402.3 576.0M409.4 582.1L406.9 605.0M412.8 595.2L406.9 605.0L403.2 594.1M409.4 600.3L406.5 618.6M411.7 610.9L406.5 618.6L404.0 609.7M409.4 618.5L406.2 634.2M411.0 627.7L406.2 634.2L404.3 626.4M409.4 636.7L405.6 652.1M410.5 645.9L405.6 652.1L404.0 644.3M409.4 654.9L405.0 672.4M410.7 665.4L405.0 672.4L403.3 663.6M409.4 673.0L404.5 692.7M410.9 684.8L404.5 692.7L402.6 682.7M409.4 691.2L404.5 709.4M410.5 702.2L404.5 709.4L402.8 700.1M409.4 709.4L405.1 724.9M410.3 718.8L405.1 724.9L403.7 717.0M409.4 727.5L405.6 745.3M411.1 738.0L405.6 745.3L403.6 736.5M409.4 745.7L405.7 770.1M412.5 759.8L405.7 770.1L402.2 758.3M409.4 763.9L406.2 789.1M412.9 778.4L406.2 789.1L402.3 777.0M427.5 327.7L420.3 340.2M426.2 336.0L420.3 340.2L420.9 333.0M427.5 345.9L419.9 359.0M426.1 354.7L419.9 359.0L420.6 351.4M427.5 364.1L418.7 379.1M425.9 374.1L418.7 379.1L419.5 370.4M427.5 382.2L417.8 398.7M425.7 393.3L417.8 398.7L418.8 389.2M427.5 400.4L417.0 418.2M425.5 412.3L417.0 418.2L418.0 407.9M427.5 418.6L417.1 437.6M425.8 431.2L417.1 437.6L417.8 426.8M427.5 436.8L417.4 456.5M426.2 449.7L417.4 456.5L417.8 445.4M427.5 454.9L417.8 475.6M426.6 468.3L417.8 475.6L417.8 464.2M427.5 473.1L418.2 494.7M427.0 486.9L418.2 494.7L417.9 482.9M427.5 491.3L418.8 513.3M427.4 505.2L418.8 513.3L418.1 501.5M427.5 509.4L419.7 532.7M428.2 523.8L419.7 532.7L418.3 520.5M427.5 527.6L420.7 552.0M428.9 542.4L420.7 552.0L418.6 539.5M427.5 545.8L421.9 570.6M429.7 560.6L421.9 570.6L419.2 558.2M427.5 564.0L423.4 588.2M430.4 578.1L423.4 588.2L420.1 576.3M427.5 582.1L424.8 605.2M430.9 595.3L424.8 605.2L421.2 594.2M427.5 600.3L424.6 619.2M429.9 611.3L424.6 619.2L421.9 610.0M427.5 618.5L424.3 634.8M429.2 628.1L424.3 634.8L422.3 626.8M427.5 636.7L423.9 652.1M428.8 645.9L423.9 652.1L422.3 644.4M427.5 654.9L423.5 671.9M428.9 665.0L423.5 671.9L421.7 663.3M427.5 673.0L423.0 692.5M429.1 684.6L423.0 692.5L420.9 682.7M427.5 691.2L422.8 710.0M428.9 702.5L422.8 710.0L421.0 700.5M427.5 709.4L423.9 725.3M428.9 718.8L423.9 725.3L422.2 717.3M427.5 727.5L424.5 745.4M429.6 737.9L424.5 745.4L422.1 736.7M427.5 745.7L424.6 770.6M431.2 760.0L424.6 770.6L420.7 758.7M427.5 763.9L424.9 789.9M431.6 778.6L424.9 789.9L420.6 777.5M445.7 327.7L437.5 341.2M444.1 336.8L437.5 341.2L438.4 333.4M445.7 345.9L437.0 360.2M444.0 355.5L437.0 360.2L437.9 351.9M445.7 364.1L435.8 380.2M443.7 375.0L435.8 380.2L436.9 370.8M445.7 382.2L434.9 399.8M443.5 394.1L434.9 399.8L436.1 389.5M445.7 400.4L434.2 419.0M443.3 413.0L434.2 419.0L435.5 408.1M445.7 418.6L434.6 437.9M443.7 431.5L434.6 437.9L435.5 426.8M445.7 436.8L434.9 456.9M444.1 450.0L434.9 456.9L435.6 445.5M445.7 454.9L435.3 475.9M444.4 468.6L435.3 475.9L435.6 464.2M445.7 473.1L435.9 494.6M444.9 486.9L435.9 494.6L435.8 482.8M445.7 491.3L436.5 513.1M445.3 505.2L436.5 513.1L436.1 501.3M445.7 509.4L437.4 532.6M446.1 523.8L437.4 532.6L436.3 520.3M445.7 527.6L438.4 552.1M446.9 542.6L438.4 552.1L436.5 539.5M445.7 545.8L439.5 571.3M447.7 561.1L439.5 571.3L436.9 558.5M445.7 564.0L441.1 589.0M448.5 578.6L441.1 589.0L437.9 576.7M445.7 582.1L442.7 605.4M449.0 595.5L442.7 605.4L439.1 594.3M445.7 600.3L442.5 620.1M448.1 611.8L442.5 620.1L439.8 610.5M445.7 618.5L442.4 635.8M447.5 628.6L442.4 635.8L440.2 627.2M445.7 636.7L442.2 652.3M447.1 645.9L442.2 652.3L440.5 644.5M445.7 654.9L442.0 671.4M447.2 664.7L442.0 671.4L440.2 663.1M445.7 673.0L441.4 692.1M447.4 684.3L441.4 692.1L439.3 682.5M445.7 691.2L441.2 710.6M447.3 702.7L441.2 710.6L439.2 700.9M445.7 709.4L442.6 726.2M447.6 719.3L442.6 726.2L440.4 717.9M445.7 727.5L443.3 745.7M448.2 738.0L443.3 745.7L440.5 737.0M445.7 745.7L443.6 770.4M449.8 759.7L443.6 770.4L439.3 758.8M445.7 763.9L443.7 789.9M450.1 778.5L443.7 789.9L439.1 777.7M463.9 327.7L453.9 343.5M461.8 338.5L453.9 343.5L455.1 334.3M463.9 345.9L453.5 362.2M461.7 357.0L453.5 362.2L454.8 352.6M463.9 364.1L452.2 382.3M461.3 376.5L452.2 382.3L453.6 371.6M463.9 382.2L451.4 401.6M461.1 395.5L451.4 401.6L452.9 390.2M463.9 400.4L451.2 419.9M461.1 413.7L451.2 419.9L452.8 408.4M463.9 418.6L451.8 438.5M461.5 432.0L451.8 438.5L453.1 426.9M463.9 436.8L452.4 457.1M461.9 450.3L452.4 457.1L453.3 445.5M463.9 454.9L453.0 475.8M462.3 468.6L453.0 475.8L453.5 464.0M463.9 473.1L453.6 494.3M462.7 486.9L453.6 494.3L453.8 482.5M463.9 491.3L454.2 512.9M463.2 505.2L454.2 512.9L454.0 501.1M463.9 509.4L455.2 532.3M464.0 523.8L455.2 532.3L454.3 520.1M463.9 527.6L456.2 551.9M464.8 542.5L456.2 551.9L454.5 539.3M463.9 545.8L457.3 571.4M465.7 561.2L457.3 571.4L454.9 558.4M463.9 564.0L458.8 589.8M466.5 579.2L458.8 589.8L455.6 577.0M463.9 582.1L460.5 606.4M467.1 596.1L460.5 606.4L456.9 594.7M463.9 600.3L460.3 622.0M466.5 612.9L460.3 622.0L457.3 611.4M463.9 618.5L460.2 637.8M466.0 629.8L460.2 637.8L457.8 628.3M463.9 636.7L460.3 653.4M465.5 646.6L460.3 653.4L458.4 645.1M463.9 654.9L460.2 672.0M465.5 665.0L460.2 672.0L458.2 663.5M463.9 673.0L459.8 692.2M465.7 684.4L459.8 692.2L457.6 682.7M463.9 691.2L459.6 711.1M465.8 703.0L459.6 711.1L457.3 701.2M463.9 709.4L461.2 728.2M466.4 720.2L461.2 728.2L458.5 719.1M463.9 727.5L462.0 747.1M467.0 738.6L462.0 747.1L458.7 737.8M463.9 745.7L462.6 770.5M468.4 759.6L462.6 770.5L457.9 759.0M463.9 763.9L462.5 789.5M468.5 778.2L462.5 789.5L457.7 777.6M482.1 327.7L470.7 344.2M479.4 339.1L470.7 344.2L472.4 334.3M482.1 345.9L469.8 363.9M479.2 358.3L469.8 363.9L471.5 353.1M482.1 364.1L469.0 383.3M479.0 377.3L469.0 383.3L470.9 371.8M482.1 382.2L469.0 401.7M479.0 395.6L469.0 401.7L470.8 390.1M482.1 400.4L469.7 419.0M479.2 413.2L469.7 419.0L471.3 408.0M482.1 418.6L470.5 437.4M479.7 431.3L470.5 437.4L471.8 426.4M482.1 436.8L471.1 456.2M480.2 449.7L471.1 456.2L472.0 445.0M482.1 454.9L471.5 475.3M480.6 468.3L471.5 475.3L472.0 463.8M482.1 473.1L472.0 494.4M481.1 486.8L472.0 494.4L472.1 482.6M482.1 491.3L472.8 513.0M481.5 505.1L472.8 513.0L472.4 501.2M482.1 509.4L473.8 531.8M482.3 523.4L473.8 531.8L472.8 519.9M482.1 527.6L474.8 551.1M483.1 542.0L474.8 551.1L473.1 538.9M482.1 545.8L475.9 570.5M483.9 560.6L475.9 570.5L473.4 558.0M482.1 564.0L477.0 589.8M484.7 579.1L477.0 589.8L473.8 577.0M482.1 582.1L478.5 607.3M485.4 596.6L478.5 607.3L474.8 595.1M482.1 600.3L478.4 623.5M485.0 613.8L478.4 623.5L475.2 612.2M482.1 618.5L478.3 639.9M484.5 631.0L478.3 639.9L475.5 629.4M482.1 636.7L478.4 655.6M484.1 647.8L478.4 655.6L476.1 646.3M482.1 654.9L478.4 673.8M484.1 665.9L478.4 673.8L476.1 664.4M482.1 673.0L478.2 693.2M484.2 684.9L478.2 693.2L475.7 683.3M482.1 691.2L478.1 712.5M484.4 703.7L478.1 712.5L475.4 702.0M482.1 709.4L479.7 729.9M485.1 721.1L479.7 729.9L476.5 720.1M482.1 727.5L480.4 748.5M485.6 739.3L480.4 748.5L476.7 738.7M482.1 745.7L481.0 770.7M486.8 759.6L481.0 770.7L476.2 759.2M482.1 763.9L481.0 789.4M486.9 778.1L481.0 789.4L476.1 777.6M500.2 309.5L487.8 325.9M496.9 321.1L487.8 325.9L490.0 315.9M500.2 327.7L487.2 345.2M496.8 340.0L487.2 345.2L489.4 334.5M500.2 345.9L486.6 364.6M496.7 359.0L486.6 364.6L488.8 353.2M500.2 364.1L486.7 383.1M496.8 377.4L486.7 383.1L488.8 371.6M500.2 382.2L486.9 401.3M497.0 395.5L486.9 401.3L488.9 389.9M500.2 400.4L487.9 418.5M497.3 412.9L487.9 418.5L489.7 407.7M500.2 418.6L489.2 436.4M497.9 430.7L489.2 436.4L490.4 426.0M500.2 436.8L489.4 455.9M498.4 449.5L489.4 455.9L490.3 444.9M500.2 454.9L489.8 475.2M498.8 468.2L489.8 475.2L490.2 463.8M500.2 473.1L490.4 494.5M499.4 486.9L490.4 494.5L490.3 482.7M500.2 491.3L491.2 513.1M499.9 505.1L491.2 513.1L490.7 501.3M500.2 509.4L492.3 531.7M500.6 523.3L492.3 531.7L491.2 519.9M500.2 527.6L493.4 550.3M501.3 541.5L493.4 550.3L491.7 538.6M500.2 545.8L494.5 569.1M502.0 559.8L494.5 569.1L492.2 557.3M500.2 564.0L495.5 588.8M502.9 578.5L495.5 588.8L492.4 576.5M500.2 582.1L496.7 607.1M503.6 596.6L496.7 607.1L493.0 595.1M500.2 600.3L496.7 623.8M503.3 613.9L496.7 623.8L493.3 612.4M500.2 618.5L496.6 641.0M503.0 631.6L496.6 641.0L493.5 630.1M500.2 636.7L496.6 658.3M502.8 649.3L496.6 658.3L493.6 647.7M500.2 654.9L496.6 676.4M502.8 667.4L496.6 676.4L493.7 665.9M500.2 673.0L496.5 694.8M502.8 685.7L496.5 694.8L493.6 684.2M500.2 691.2L496.6 713.6M503.0 704.2L496.6 713.6L493.5 702.7M500.2 709.4L498.4 731.4M503.9 721.8L498.4 731.4L494.6 721.0M500.2 727.5L498.9 749.9M504.2 740.1L498.9 749.9L494.8 739.5M500.2 745.7L499.4 771.0M505.1 759.7L499.4 771.0L494.5 759.4M500.2 763.9L499.4 789.4M505.2 778.0L499.4 789.4L494.4 777.7M518.4 309.5L505.1 325.5M514.5 321.1L505.1 325.5L507.7 315.5M518.4 327.7L504.6 344.9M514.5 340.0L504.6 344.9L507.2 334.2M518.4 345.9L504.7 363.5M514.6 358.4L504.7 363.5L507.2 352.6M518.4 364.1L505.0 382.0M514.9 376.7L505.0 382.0L507.3 371.0M518.4 382.2L505.5 400.1M515.1 394.7L505.5 400.1L507.6 389.3M518.4 400.4L506.5 417.5M515.5 412.2L506.5 417.5L508.3 407.2M518.4 418.6L507.4 436.0M516.1 430.5L507.4 436.0L508.7 425.8M518.4 436.8L507.6 455.9M516.5 449.5L507.6 455.9L508.4 444.9M518.4 454.9L508.1 475.3M517.1 468.2L508.1 475.3L508.5 463.9M518.4 473.1L508.7 494.5M517.7 486.9L508.7 494.5L508.6 482.8M518.4 491.3L509.7 513.2M518.3 505.1L509.7 513.2L509.0 501.4M518.4 509.4L510.8 531.8M518.9 523.3L510.8 531.8L509.5 520.0M518.4 527.6L511.8 550.3M519.6 541.4L511.8 550.3L510.0 538.6M518.4 545.8L512.9 568.7M520.3 559.5L512.9 568.7L510.6 557.2M518.4 564.0L514.0 587.5M520.9 577.8L514.0 587.5L511.0 575.9M518.4 582.1L515.0 606.3M521.6 596.1L515.0 606.3L511.4 594.6M518.4 600.3L515.0 623.8M521.5 613.9L515.0 623.8L511.6 612.4M518.4 618.5L515.0 641.8M521.5 631.9L515.0 641.8L511.6 630.5M518.4 636.7L515.0 659.9M521.4 650.1L515.0 659.9L511.6 648.6M518.4 654.9L515.0 678.0M521.4 668.2L515.0 678.0L511.6 666.8M518.4 673.0L515.0 696.2M521.4 686.4L515.0 696.2L511.6 685.0M518.4 691.2L515.2 714.5M521.6 704.6L515.2 714.5L511.7 703.3M518.4 709.4L517.1 732.8M522.6 722.4L517.1 732.8L512.7 721.9M518.4 727.5L517.5 751.3M522.9 740.7L517.5 751.3L512.9 740.4M518.4 745.7L517.9 771.3M523.5 759.8L517.9 771.3L512.7 759.6M518.4 763.9L517.9 789.5M523.5 778.0L517.9 789.5L512.7 777.8M536.6 291.4L523.5 305.6M532.4 301.9L523.5 305.6L526.4 296.4M536.6 309.5L521.2 326.3M531.7 322.0L521.2 326.3L524.6 315.5M536.6 327.7L521.2 345.4M531.9 340.6L521.2 345.4L524.4 334.1M536.6 345.9L521.7 363.9M532.2 358.9L521.7 363.9L524.6 352.6M536.6 364.1L522.3 382.2M532.6 377.0L522.3 382.2L524.9 371.0M536.6 382.2L523.4 399.9M533.1 394.7L523.4 399.9L525.6 389.1M536.6 400.4L524.5 417.4M533.6 412.2L524.5 417.4L526.4 407.1M536.6 418.6L525.4 436.1M534.2 430.5L525.4 436.1L526.8 425.8M536.6 436.8L525.7 456.0M534.7 449.6L525.7 456.0L526.5 445.0M536.6 454.9L526.3 475.4M535.3 468.3L526.3 475.4L526.6 463.9M536.6 473.1L527.1 494.6M536.0 486.9L527.1 494.6L526.9 482.9M536.6 491.3L528.2 513.3M536.7 505.1L528.2 513.3L527.3 501.6M536.6 509.4L529.2 531.9M537.3 523.3L529.2 531.9L527.8 520.1M536.6 527.6L530.2 550.3M537.9 541.4L530.2 550.3L528.3 538.7M536.6 545.8L531.2 568.8M538.5 559.5L531.2 568.8L528.8 557.2M536.6 564.0L532.3 587.2M539.1 577.6L532.3 587.2L529.3 575.7M536.6 582.1L533.3 605.6M539.7 595.7L533.3 605.6L529.8 594.3M536.6 600.3L533.4 623.7M539.8 613.8L533.4 623.7L529.9 612.4M536.6 618.5L533.5 641.9M539.8 631.9L533.5 641.9L530.0 630.6M536.6 636.7L533.6 660.0M539.9 650.1L533.6 660.0L530.0 648.8M536.6 654.9L533.6 678.1M539.9 668.2L533.6 678.1L530.1 666.9M536.6 673.0L533.6 696.3M539.9 686.4L533.6 696.3L530.1 685.1M536.6 691.2L534.0 714.6M540.1 704.5L534.0 714.6L530.2 703.4M536.6 709.4L535.9 733.1M541.2 722.5L535.9 733.1L531.2 722.2M536.6 727.5L536.1 752.0M541.5 741.0L536.1 752.0L531.1 740.8M536.6 745.7L536.3 770.8M541.7 759.5L536.3 770.8L531.1 759.4M536.6 763.9L536.3 789.4M541.8 777.9L536.3 789.4L531.0 777.8M554.8 255.0L544.4 265.4M551.3 262.9L544.4 265.4L546.9 258.5M554.8 273.2L542.2 285.7M550.5 282.7L542.2 285.7L545.2 277.4M554.8 291.4L539.7 306.4M549.7 302.8L539.7 306.4L543.3 296.4M554.8 309.5L538.4 325.9M549.3 321.9L538.4 325.9L542.3 315.0M554.8 327.7L538.8 344.7M549.6 340.4L538.8 344.7L542.4 333.6M554.8 345.9L539.7 362.9M550.1 358.4L539.7 362.9L542.9 352.0M554.8 364.1L540.6 381.1M550.6 376.4L540.6 381.1L543.4 370.4M554.8 382.2L541.3 399.6M551.1 394.5L541.3 399.6L543.7 388.9M554.8 400.4L541.9 418.0M551.5 412.7L541.9 418.0L544.0 407.3M554.8 418.6L542.9 437.0M552.1 431.2L542.9 437.0L544.4 426.1M554.8 436.8L543.3 456.9M552.7 450.2L543.3 456.9L544.2 445.4M554.8 454.9L544.3 475.9M553.5 468.6L544.3 475.9L544.6 464.2M554.8 473.1L545.5 494.8M554.2 486.9L545.5 494.8L545.1 483.0M554.8 491.3L546.7 513.4M555.0 505.1L546.7 513.4L545.7 501.7M554.8 509.4L547.6 531.9M555.6 523.3L547.6 531.9L546.1 520.2M554.8 527.6L548.6 550.4M556.2 541.4L548.6 550.4L546.6 538.8M554.8 545.8L549.5 568.8M556.8 559.5L549.5 568.8L547.0 557.3M554.8 564.0L550.5 587.0M557.3 577.5L550.5 587.0L547.6 575.7M554.8 582.1L551.5 605.5M557.9 595.6L551.5 605.5L548.0 594.2M554.8 600.3L551.7 623.7M558.0 613.8L551.7 623.7L548.2 612.5M554.8 618.5L552.0 641.9M558.2 631.8L552.0 641.9L548.3 630.7M554.8 636.7L552.4 659.4M558.3 649.6L552.4 659.4L548.6 648.6M554.8 654.9L552.4 677.0M558.2 667.5L552.4 677.0L548.8 666.5M554.8 673.0L552.4 695.2M558.2 685.6L552.4 695.2L548.8 684.7M554.8 691.2L552.8 714.0M558.5 704.1L552.8 714.0L548.8 703.3M554.8 709.4L554.8 733.1M559.8 722.3L554.8 733.1L549.7 722.3M554.8 727.5L554.8 752.9M560.1 741.4L554.8 752.9L549.4 741.4M554.8 745.7L554.8 771.9M560.3 760.0L554.8 771.9L549.2 760.0M554.8 763.9L554.8 789.5M560.2 777.9L554.8 789.5L549.3 777.9M572.9 236.8L560.3 249.0M568.6 246.2L560.3 249.0L563.5 240.8M572.9 255.0L559.6 268.0M568.4 264.9L559.6 268.0L562.9 259.3M572.9 273.2L558.5 287.2M568.0 283.9L558.5 287.2L562.1 277.8M572.9 291.4L557.8 306.2M567.8 302.7L557.8 306.2L561.5 296.3M572.9 309.5L557.6 324.6M567.7 321.0L557.6 324.6L561.4 314.5M572.9 327.7L557.8 343.5M568.0 339.5L557.8 343.5L561.3 333.2M572.9 345.9L558.7 361.8M568.5 357.6L558.7 361.8L561.7 351.6M572.9 364.1L559.3 380.3M568.9 375.8L559.3 380.3L562.1 370.0M572.9 382.2L559.8 398.9M569.3 394.1L559.8 398.9L562.2 388.6M572.9 400.4L560.3 417.5M569.6 412.4L560.3 417.5L562.4 407.1M572.9 418.6L561.2 436.5M570.3 430.9L561.2 436.5L562.7 425.9M572.9 436.8L561.8 456.3M570.9 449.8L561.8 456.3L562.7 445.1M572.9 454.9L562.8 475.4M571.7 468.2L562.8 475.4L563.1 464.0M572.9 473.1L563.7 494.7M572.4 486.9L563.7 494.7L563.3 483.0M572.9 491.3L564.9 513.5M573.2 505.1L564.9 513.5L563.9 501.7M572.9 509.4L565.9 532.0M573.8 523.3L565.9 532.0L564.3 520.3M572.9 527.6L566.8 550.4M574.4 541.4L566.8 550.4L564.8 538.8M572.9 545.8L567.8 568.5M574.9 559.3L567.8 568.5L565.3 557.1M572.9 564.0L568.9 586.1M575.4 576.9L568.9 586.1L566.0 575.2M572.9 582.1L569.7 605.4M576.0 595.5L569.7 605.4L566.2 594.1M572.9 600.3L569.9 623.7M576.2 613.8L569.9 623.7L566.3 612.5M572.9 618.5L570.2 641.9M576.4 631.8L570.2 641.9L566.5 630.7M572.9 636.7L570.5 659.4M576.4 649.6L570.5 659.4L566.8 648.6M572.9 654.9L570.6 676.9M576.3 667.4L570.6 676.9L567.0 666.4M572.9 673.0L570.6 695.0M576.3 685.5L570.6 695.0L567.0 684.6M572.9 691.2L570.9 713.9M576.6 704.0L570.9 713.9L567.0 703.2M572.9 709.4L572.9 733.1M577.9 722.3L572.9 733.1L567.9 722.3M572.9 727.5L572.9 753.0M578.3 741.5L572.9 753.0L567.5 741.5M572.9 745.7L572.9 772.1M578.5 760.2L572.9 772.1L567.3 760.2M572.9 763.9L572.9 789.5M578.3 777.9L572.9 789.5L567.5 777.9M591.1 218.7L578.3 230.5M586.6 227.8L578.3 230.5L581.6 222.5M591.1 236.8L577.3 249.8M586.3 246.8L577.3 249.8L580.8 241.0M591.1 255.0L576.4 269.0M586.0 265.7L576.4 269.0L580.1 259.5M591.1 273.2L575.9 287.7M585.9 284.3L575.9 287.7L579.7 277.9M591.1 291.4L575.9 306.0M585.9 302.6L575.9 306.0L579.7 296.2M591.1 309.5L575.9 324.3M585.9 320.8L575.9 324.3L579.7 314.4M591.1 327.7L576.3 343.0M586.3 339.2L576.3 343.0L579.8 332.9M591.1 345.9L577.0 361.4M586.7 357.4L577.0 361.4L580.1 351.4M591.1 364.1L577.7 379.8M587.1 375.5L577.7 379.8L580.5 369.8M591.1 382.2L578.0 398.6M587.4 394.0L578.0 398.6L580.5 388.4M591.1 400.4L578.4 417.3M587.7 412.3L578.4 417.3L580.6 407.0M591.1 418.6L579.5 436.2M588.5 430.7L579.5 436.2L581.0 425.8M591.1 436.8L580.4 455.3M589.2 449.2L580.4 455.3L581.3 444.6M591.1 454.9L581.3 474.6M589.9 467.8L581.3 474.6L581.6 463.6M591.1 473.1L582.0 494.6M590.6 486.8L582.0 494.6L581.6 482.9M591.1 491.3L583.2 513.4M591.5 505.1L583.2 513.4L582.1 501.7M591.1 509.4L584.1 531.9M592.0 523.2L584.1 531.9L582.5 520.3M591.1 527.6L585.1 550.1M592.6 541.2L585.1 550.1L583.1 538.6M591.1 545.8L586.2 567.6M593.0 558.8L586.2 567.6L583.8 556.7M591.1 564.0L587.1 585.8M593.5 576.8L587.1 585.8L584.3 575.1M591.1 582.1L587.8 605.4M594.2 595.5L587.8 605.4L584.4 594.1M591.1 600.3L588.1 623.7M594.4 613.8L588.1 623.7L584.5 612.5M591.1 618.5L588.4 641.9M594.6 631.9L588.4 641.9L584.6 630.7M591.1 636.7L588.7 660.0M594.7 649.9L588.7 660.0L584.8 648.9M591.1 654.9L588.7 677.5M594.6 667.8L588.7 677.5L585.0 666.8M591.1 673.0L588.8 695.2M594.5 685.6L588.8 695.2L585.1 684.7M591.1 691.2L589.1 714.0M594.8 704.1L589.1 714.0L585.2 703.3M591.1 709.4L591.1 733.1M596.1 722.3L591.1 733.1L586.1 722.3M591.1 727.5L591.1 753.0M596.5 741.5L591.1 753.0L585.7 741.5M591.1 745.7L591.1 772.1M596.7 760.2L591.1 772.1L585.5 760.2M591.1 763.9L591.1 789.6M596.5 778.0L591.1 789.6L585.7 778.0M609.3 200.5L597.8 211.3M605.3 208.8L597.8 211.3L600.7 204.0M609.3 218.7L596.1 230.5M604.6 227.9L596.1 230.5L599.6 222.3M609.3 236.8L594.5 250.3M604.0 247.3L594.5 250.3L598.3 241.1M609.3 255.0L593.8 269.3M603.8 266.1L593.8 269.3L597.8 259.5M609.3 273.2L593.8 287.6M603.9 284.3L593.8 287.6L597.8 277.8M609.3 291.4L593.9 305.9M603.9 302.6L593.9 305.9L597.8 296.1M609.3 309.5L594.0 324.2M604.0 320.8L594.0 324.2L597.8 314.3M609.3 327.7L594.6 342.7M604.4 339.0L594.6 342.7L598.1 332.8M609.3 345.9L595.3 361.0M604.9 357.1L595.3 361.0L598.4 351.2M609.3 364.1L595.9 379.5M605.2 375.3L595.9 379.5L598.7 369.7M609.3 382.2L596.3 398.2M605.6 393.7L596.3 398.2L598.8 388.2M609.3 400.4L596.5 417.2M605.9 412.3L596.5 417.2L598.8 406.9M609.3 418.6L597.6 436.2M606.6 430.7L597.6 436.2L599.1 425.7M609.3 436.8L598.7 455.1M607.3 449.0L598.7 455.1L599.6 444.5M609.3 454.9L599.7 474.1M608.1 467.4L599.7 474.1L600.0 463.4M609.3 473.1L600.4 493.9M608.9 486.4L600.4 493.9L600.0 482.6M609.3 491.3L601.7 512.8M609.7 504.6L601.7 512.8L600.6 501.4M609.3 509.4L602.6 531.2M610.2 522.7L602.6 531.2L601.0 519.9M609.3 527.6L603.6 549.2M610.7 540.6L603.6 549.2L601.6 538.2M609.3 545.8L604.5 567.3M611.2 558.6L604.5 567.3L602.1 556.5M609.3 564.0L605.3 585.8M611.7 576.8L605.3 585.8L602.5 575.1M609.3 582.1L606.0 605.4M612.4 595.5L606.0 605.4L602.6 594.1M609.3 600.3L606.3 623.7M612.6 613.8L606.3 623.7L602.7 612.5M609.3 618.5L606.5 641.9M612.7 631.9L606.5 641.9L602.8 630.7M609.3 636.7L606.8 660.1M612.9 650.0L606.8 660.1L603.0 649.0M609.3 654.9L606.8 678.2M612.9 668.1L606.8 678.2L603.0 667.1M609.3 673.0L606.9 695.9M612.8 686.0L606.9 695.9L603.1 685.0M609.3 691.2L607.2 714.5M613.1 704.4L607.2 714.5L603.2 703.5M609.3 709.4L609.3 733.2M614.3 722.4L609.3 733.2L604.2 722.4M609.3 727.5L609.3 752.9M614.6 741.4L609.3 752.9L603.9 741.4M609.3 745.7L609.3 772.2M614.9 760.2L609.3 772.2L603.7 760.2M609.3 763.9L609.3 790.4M614.9 778.4L609.3 790.4L603.7 778.4M627.5 182.3L614.8 194.5M623.1 191.6L614.8 194.5L618.0 186.3M627.5 200.5L614.4 212.4M622.8 209.8L614.4 212.4L617.8 204.2M627.5 218.7L613.3 231.0M622.3 228.4L613.3 231.0L617.1 222.4M627.5 236.8L612.2 250.3M622.0 247.4L612.2 250.3L616.2 241.0M627.5 255.0L611.7 269.2M621.8 266.1L611.7 269.2L615.9 259.4M627.5 273.2L611.8 287.5M621.9 284.3L611.8 287.5L615.9 277.7M627.5 291.4L612.0 305.7M622.0 302.5L612.0 305.7L616.0 295.9M627.5 309.5L612.2 324.0M622.2 320.6L612.2 324.0L616.0 314.2M627.5 327.7L612.9 342.3M622.6 338.8L612.9 342.3L616.4 332.6M627.5 345.9L613.5 360.8M623.0 357.0L613.5 360.8L616.7 351.1M627.5 364.1L614.0 379.4M623.3 375.3L614.0 379.4L616.9 369.6M627.5 382.2L614.4 398.1M623.7 393.7L614.4 398.1L616.9 388.2M627.5 400.4L614.6 417.1M623.9 412.3L614.6 417.1L616.9 406.8M627.5 418.6L615.6 436.1M624.7 430.7L615.6 436.1L617.3 425.7M627.5 436.8L616.8 455.0M625.5 449.0L616.8 455.0L617.8 444.5M627.5 454.9L617.9 473.9M626.3 467.3L617.9 473.9L618.2 463.3M627.5 473.1L618.9 493.4M627.1 486.0L618.9 493.4L618.5 482.4M627.5 491.3L620.2 512.2M627.9 504.2L620.2 512.2L619.1 501.2M627.5 509.4L621.0 530.6M628.4 522.4L621.0 530.6L619.5 519.7M627.5 527.6L621.9 548.9M628.9 540.5L621.9 548.9L619.9 538.1M627.5 545.8L622.7 567.3M629.4 558.6L622.7 567.3L620.3 556.6M627.5 564.0L623.5 585.7M629.9 576.7L623.5 585.7L620.7 575.0M627.5 582.1L624.2 605.4M630.6 595.5L624.2 605.4L620.8 594.1M627.5 600.3L624.4 623.7M630.7 613.8L624.4 623.7L620.9 612.5M627.5 618.5L624.7 641.9M630.9 631.9L624.7 641.9L621.0 630.7M627.5 636.7L625.0 660.1M631.1 650.0L625.0 660.1L621.1 649.0M627.5 654.9L625.0 678.3M631.1 668.2L625.0 678.3L621.1 667.2M627.5 673.0L625.0 696.4M631.0 686.3L625.0 696.4L621.2 685.3M627.5 691.2L625.4 714.7M631.3 704.5L625.4 714.7L621.4 703.6M627.5 709.4L627.5 733.1M632.5 722.3L627.5 733.1L622.4 722.3M627.5 727.5L627.5 752.2M632.7 741.0L627.5 752.2L622.2 741.0M627.5 745.7L627.5 771.8M633.0 760.0L627.5 771.8L621.9 760.0M627.5 763.9L627.5 790.5M633.1 778.4L627.5 790.5L621.8 778.4M645.6 146.0L632.5 159.7M641.4 156.3L632.5 159.7L635.5 150.7M645.6 164.1L631.7 178.0M640.9 174.7L631.7 178.0L635.1 168.8M645.6 182.3L631.1 196.0M640.5 192.9L631.1 196.0L634.8 186.7M645.6 200.5L630.7 213.7M640.3 210.8L630.7 213.7L634.7 204.6M645.6 218.7L630.9 231.0M640.2 228.5L630.9 231.0L635.0 222.3M645.6 236.8L630.0 250.2M639.9 247.5L630.0 250.2L634.2 240.9M645.6 255.0L629.3 269.3M639.7 266.3L629.3 269.3L633.7 259.4M645.6 273.2L629.9 287.2M640.0 284.2L629.9 287.2L634.1 277.5M645.6 291.4L630.4 305.3M640.2 302.2L630.4 305.3L634.4 295.7M645.6 309.5L630.6 323.5M640.4 320.4L630.6 323.5L634.4 314.0M645.6 327.7L631.1 342.1M640.7 338.7L631.1 342.1L634.6 332.5M645.6 345.9L631.6 360.7M641.1 357.0L631.6 360.7L634.8 351.0M645.6 364.1L632.0 379.4M641.4 375.3L632.0 379.4L635.0 369.5M645.6 382.2L632.2 398.4M641.7 393.9L632.2 398.4L634.9 388.2M645.6 400.4L632.6 417.0M642.0 412.2L632.6 417.0L635.0 406.7M645.6 418.6L633.8 436.0M642.8 430.6L633.8 436.0L635.5 425.6M645.6 436.8L634.9 455.0M643.6 449.0L634.9 455.0L635.9 444.5M645.6 454.9L636.1 473.9M644.4 467.3L636.1 473.9L636.4 463.3M645.6 473.1L637.1 493.3M645.2 486.0L637.1 493.3L636.7 482.4M645.6 491.3L638.5 512.1M646.1 504.2L638.5 512.1L637.3 501.2M645.6 509.4L639.3 530.5M646.6 522.3L639.3 530.5L637.7 519.6M645.6 527.6L640.1 548.9M647.1 540.5L640.1 548.9L638.1 538.1M645.6 545.8L641.0 567.0M647.6 558.4L641.0 567.0L638.6 556.4M645.6 564.0L641.9 584.8M648.0 576.1L641.9 584.8L639.2 574.6M645.6 582.1L642.4 605.1M648.7 595.4L642.4 605.1L639.0 594.0M645.6 600.3L642.6 623.6M648.9 613.7L642.6 623.6L639.1 612.4M645.6 618.5L642.9 641.9M649.1 631.9L642.9 641.9L639.2 630.7M645.6 636.7L643.2 660.1M649.2 650.0L643.2 660.1L639.3 649.0M645.6 654.9L643.2 678.3M649.2 668.2L643.2 678.3L639.3 667.2M645.6 673.0L643.2 696.5M649.2 686.4L643.2 696.5L639.3 685.3M645.6 691.2L643.6 714.7M649.5 704.5L643.6 714.7L639.5 703.6M645.6 709.4L645.6 733.0M650.6 722.3L645.6 733.0L640.6 722.3M645.6 727.5L645.6 751.5M650.7 740.7L645.6 751.5L640.6 740.7M645.6 745.7L645.6 771.6M651.1 759.9L645.6 771.6L640.1 759.9M645.6 763.9L645.6 790.4M651.2 778.4L645.6 790.4L640.0 778.4M663.8 91.4L652.6 102.4M660.0 99.8L652.6 102.4L655.3 95.0M663.8 127.8L650.3 142.2M659.5 138.5L650.3 142.2L653.4 132.8M663.8 146.0L649.7 160.1M659.1 156.7L649.7 160.1L653.1 150.7M663.8 164.1L649.6 177.6M658.9 174.5L649.6 177.6L653.2 168.5M663.8 182.3L649.2 195.3M658.6 192.5L649.2 195.3L653.1 186.3M663.8 200.5L648.8 213.1M658.3 210.6L648.8 213.1L652.9 204.2M663.8 218.7L648.5 230.7M658.0 228.5L648.5 230.7L652.9 222.0M663.8 236.8L647.1 250.4M657.5 247.8L647.1 250.4L651.8 240.7M663.8 255.0L646.7 269.2M657.5 266.4L646.7 269.2L651.5 259.2M663.8 273.2L648.0 286.7M658.0 283.9L648.0 286.7L652.3 277.2M663.8 291.4L648.5 304.8M658.3 301.9L648.5 304.8L652.6 295.5M663.8 309.5L648.7 323.1M658.4 320.1L648.7 323.1L652.7 313.8M663.8 327.7L649.1 341.9M658.8 338.6L649.1 341.9L652.7 332.4M663.8 345.9L649.6 360.6M659.2 356.9L649.6 360.6L652.9 350.9M663.8 364.1L650.1 379.3M659.5 375.3L650.1 379.3L653.1 369.5M663.8 382.2L650.4 398.3M659.9 393.8L650.4 398.3L653.1 388.2M663.8 400.4L651.2 416.7M660.3 412.0L651.2 416.7L653.4 406.6M663.8 418.6L652.2 435.6M661.1 430.3L652.2 435.6L653.9 425.4M663.8 436.8L653.1 454.8M661.8 448.9L653.1 454.8L654.1 444.4M663.8 454.9L654.2 473.8M662.5 467.3L654.2 473.8L654.5 463.2M663.8 473.1L655.0 493.2M663.3 486.0L655.0 493.2L654.8 482.2M663.8 491.3L656.3 512.0M664.1 504.2L656.3 512.0L655.3 501.0M663.8 509.4L657.0 530.4M664.5 522.3L657.0 530.4L655.7 519.5M663.8 527.6L657.9 548.5M665.0 540.3L657.9 548.5L656.2 537.8M663.8 545.8L658.9 566.0M665.4 557.9L658.9 566.0L656.9 555.8M663.8 564.0L659.7 584.3M665.9 575.9L659.7 584.3L657.3 574.2M663.8 582.1L660.2 604.4M666.5 595.1L660.2 604.4L657.1 593.6M663.8 600.3L660.4 623.0M666.7 613.4L660.4 623.0L657.2 612.0M663.8 618.5L660.6 641.6M666.9 631.8L660.6 641.6L657.2 630.5M663.8 636.7L660.9 659.9M667.1 650.0L660.9 659.9L657.3 648.8M663.8 654.9L660.9 678.2M667.2 668.2L660.9 678.2L657.3 667.0M663.8 673.0L661.0 696.5M667.2 686.4L661.0 696.5L657.3 685.2M663.8 691.2L661.5 714.7M667.5 704.5L661.5 714.7L657.6 703.6M663.8 709.4L663.4 733.0M668.6 722.4L663.4 733.0L658.6 722.2M663.8 727.5L663.5 751.4M668.7 740.7L663.5 751.4L658.6 740.5M663.8 745.7L663.5 771.5M669.1 759.9L663.5 771.5L658.2 759.7M663.8 763.9L663.5 789.6M669.1 778.0L663.5 789.6L658.2 777.9M682.0 73.2L667.4 86.5M676.8 83.6L667.4 86.5L671.2 77.4M682.0 91.4L668.5 104.3M677.3 101.3L668.5 104.3L671.9 95.6M682.0 109.6L668.6 122.9M677.5 119.7L668.6 122.9L671.9 114.0M682.0 127.8L668.6 141.6M677.6 138.2L668.6 141.6L671.7 132.5M682.0 146.0L668.5 159.1M677.4 156.0L668.5 159.1L671.8 150.3M682.0 164.1L669.0 176.0M677.4 173.3L669.0 176.0L672.4 167.9M682.0 182.3L668.6 193.7M677.1 191.4L668.6 193.7L672.3 185.7M682.0 200.5L667.3 212.2M676.4 210.0L667.3 212.2L671.4 203.8M682.0 218.7L665.7 230.8M675.7 228.7L665.7 230.8L670.5 221.9M682.0 236.8L664.8 250.1M675.4 247.7L664.8 250.1L669.8 240.4M682.0 255.0L664.9 268.6M675.5 266.0L664.9 268.6L669.8 258.8M682.0 273.2L666.1 286.1M676.1 283.6L666.1 286.1L670.6 276.9M682.0 291.4L667.3 303.8M676.6 301.2L667.3 303.8L671.3 295.0M682.0 309.5L667.5 322.1M676.7 319.5L667.5 322.1L671.4 313.4M682.0 327.7L667.3 341.5M676.9 338.4L667.3 341.5L671.0 332.2M682.0 345.9L667.6 360.5M677.2 356.9L667.6 360.5L671.1 350.8M682.0 364.1L668.3 379.2M677.7 375.2L668.3 379.2L671.3 369.4M682.0 382.2L668.9 397.9M678.1 393.6L668.9 397.9L671.5 388.0M682.0 400.4L669.5 416.6M678.6 411.9L669.5 416.6L671.7 406.6M682.0 418.6L670.4 435.5M679.2 430.3L670.4 435.5L672.1 425.4M682.0 436.8L671.4 454.4M679.9 448.6L671.4 454.4L672.5 444.1M682.0 454.9L672.4 473.2M680.6 467.0L672.4 473.2L672.9 462.9M682.0 473.1L673.0 492.9M681.3 485.8L673.0 492.9L672.9 482.0M682.0 491.3L674.1 511.7M682.0 504.1L674.1 511.7L673.4 500.8M682.0 509.4L675.0 530.0M682.5 522.2L675.0 530.0L673.8 519.2M682.0 527.6L676.0 547.5M682.9 539.8L676.0 547.5L674.5 537.3M682.0 545.8L676.8 565.6M683.3 557.7L676.8 565.6L675.0 555.5M682.0 564.0L677.5 584.1M683.8 575.9L677.5 584.1L675.3 574.0M682.0 582.1L678.0 603.7M684.4 594.7L678.0 603.7L675.3 593.1M682.0 600.3L678.2 622.1M684.5 613.0L678.2 622.1L675.3 611.5M682.0 618.5L678.5 640.4M684.7 631.2L678.5 640.4L675.4 629.7M682.0 636.7L678.7 658.7M684.9 649.4L678.7 658.7L675.5 648.0M682.0 654.9L678.8 677.4M685.0 667.9L678.8 677.4L675.5 666.5M682.0 673.0L678.9 696.3M685.2 686.4L678.9 696.3L675.4 685.1M682.0 691.2L679.4 714.7M685.5 704.6L679.4 714.7L675.6 703.5M682.0 709.4L681.2 733.0M686.5 722.4L681.2 733.0L676.5 722.1M682.0 727.5L681.3 751.3M686.6 740.7L681.3 751.3L676.6 740.4M682.0 745.7L681.4 771.1M687.1 759.7L681.4 771.1L676.3 759.5M682.0 763.9L681.4 789.4M687.1 778.0L681.4 789.4L676.3 777.8M700.1 55.1L686.4 67.0M695.2 64.5L686.4 67.0L690.1 58.7M700.1 73.2L685.5 86.4M694.9 83.5L685.5 86.4L689.4 77.4M700.1 91.4L686.4 104.2M695.4 101.3L686.4 104.2L689.9 95.5M700.1 109.6L687.4 121.9M695.8 119.0L687.4 121.9L690.6 113.6M700.1 127.8L687.8 140.2M696.0 137.2L687.8 140.2L690.8 131.9M700.1 146.0L687.6 157.7M695.8 155.0L687.6 157.7L690.8 149.7M700.1 164.1L688.1 174.6M695.8 172.4L688.1 174.6L691.4 167.3M700.1 182.3L687.8 192.4M695.5 190.4L687.8 192.4L691.2 185.2M700.1 200.5L686.1 211.1M694.7 209.3L686.1 211.1L690.2 203.3M700.1 218.7L683.6 230.3M693.6 228.5L683.6 230.3L688.7 221.5M700.1 236.8L683.1 249.3M693.5 247.2L683.1 249.3L688.2 240.0M700.1 255.0L683.3 267.7M693.6 265.5L683.3 267.7L688.3 258.4M700.1 273.2L684.2 285.6M694.1 283.4L684.2 285.6L688.8 276.6M700.1 291.4L685.3 303.4M694.6 301.1L685.3 303.4L689.5 294.8M700.1 309.5L685.7 321.6M694.8 319.2L685.7 321.6L689.7 313.1M700.1 327.7L686.0 340.7M695.1 337.8L686.0 340.7L689.6 331.8M700.1 345.9L685.8 360.2M695.3 356.8L685.8 360.2L689.3 350.7M700.1 364.1L686.3 379.1M695.8 375.2L686.3 379.1L689.4 369.4M700.1 382.2L687.1 397.9M696.3 393.6L687.1 397.9L689.7 388.0M700.1 400.4L687.8 416.5M696.8 411.8L687.8 416.5L690.0 406.6M700.1 418.6L688.7 435.4M697.4 430.2L688.7 435.4L690.3 425.4M700.1 436.8L689.5 454.3M698.0 448.6L689.5 454.3L690.6 444.1M700.1 454.9L690.5 473.0M698.7 466.8L690.5 473.0L691.1 462.8M700.1 473.1L691.4 491.8M699.3 485.2L691.4 491.8L691.4 481.5M700.1 491.3L692.4 510.4M700.0 503.4L692.4 510.4L691.9 500.1M700.1 509.4L693.1 528.9M700.4 521.5L693.1 528.9L692.2 518.6M700.1 527.6L693.9 547.1M700.8 539.6L693.9 547.1L692.6 537.0M700.1 545.8L694.6 565.5M701.3 557.8L694.6 565.5L692.9 555.4M700.1 564.0L695.3 583.9M701.7 575.9L695.3 583.9L693.3 573.9M700.1 582.1L695.9 603.0M702.2 594.4L695.9 603.0L693.4 592.6M700.1 600.3L696.0 621.7M702.4 612.9L696.0 621.7L693.4 611.2M700.1 618.5L696.2 640.1M702.6 631.1L696.2 640.1L693.4 629.5M700.1 636.7L696.5 658.4M702.7 649.3L696.5 658.4L693.5 647.8M700.1 654.9L696.7 676.8M702.9 667.6L696.7 676.8L693.6 666.1M700.1 673.0L696.8 695.6M703.1 686.1L696.8 695.6L693.6 684.7M700.1 691.2L697.4 714.5M703.5 704.5L697.4 714.5L693.7 703.3M700.1 709.4L698.9 732.9M704.5 722.5L698.9 732.9L694.5 722.0M700.1 727.5L699.2 751.3M704.6 740.8L699.2 751.3L694.6 740.3M700.1 745.7L699.4 771.1M705.1 759.7L699.4 771.1L694.4 759.4M700.1 763.9L699.4 789.4M705.1 778.0L699.4 789.4L694.3 777.7M718.3 36.9L704.4 48.5M713.2 46.2L704.4 48.5L708.3 40.3M718.3 55.1L705.1 66.5M713.5 64.1L705.1 66.5L708.7 58.5M718.3 73.2L705.1 85.0M713.6 82.5L705.1 85.0L708.6 76.9M718.3 91.4L705.4 103.2M713.7 100.6L705.4 103.2L708.8 95.2M718.3 109.6L705.7 121.4M713.9 118.7L705.7 121.4L708.9 113.4M718.3 127.8L706.5 139.2M714.3 136.5L706.5 139.2L709.4 131.5M718.3 146.0L706.5 156.6M714.1 154.2L706.5 156.6L709.6 149.3M718.3 164.1L706.3 174.1M713.9 172.1L706.3 174.1L709.7 167.1M718.3 182.3L705.8 192.0M713.5 190.3L705.8 192.0L709.4 185.0M718.3 200.5L704.0 210.8M712.7 209.1L704.0 210.8L708.3 203.1M718.3 218.7L701.5 229.8M711.5 228.3L701.5 229.8L706.8 221.2M718.3 236.8L701.4 248.5M711.6 246.8L701.4 248.5L706.6 239.6M718.3 255.0L701.8 266.9M711.8 265.0L701.8 266.9L706.8 258.0M718.3 273.2L702.9 284.7M712.3 282.7L702.9 284.7L707.5 276.2M718.3 291.4L703.5 302.9M712.6 300.8L703.5 302.9L707.8 294.5M718.3 309.5L704.0 321.1M712.9 318.9L704.0 321.1L708.0 312.8M718.3 327.7L704.2 340.4M713.2 337.6L704.2 340.4L707.9 331.6M718.3 345.9L703.8 360.1M713.4 356.7L703.8 360.1L707.4 350.6M718.3 364.1L704.4 379.1M713.9 375.2L704.4 379.1L707.6 369.3M718.3 382.2L705.3 397.8M714.5 393.5L705.3 397.8L707.9 388.0M718.3 400.4L706.5 415.9M715.2 411.4L706.5 415.9L708.6 406.4M718.3 418.6L707.1 435.0M715.7 429.9L707.1 435.0L708.7 425.2M718.3 436.8L707.7 454.1M716.2 448.5L707.7 454.1L708.8 444.0M718.3 454.9L708.5 472.9M716.7 466.8L708.5 472.9L709.2 462.7M718.3 473.1L709.4 491.5M717.3 485.1L709.4 491.5L709.6 481.3M718.3 491.3L710.3 510.1M717.9 503.3L710.3 510.1L710.0 499.9M718.3 509.4L711.0 528.6M718.4 521.5L711.0 528.6L710.3 518.4M718.3 527.6L711.7 547.0M718.8 539.6L711.7 547.0L710.6 536.8M718.3 545.8L712.4 565.4M719.2 557.8L712.4 565.4L710.9 555.3M718.3 564.0L713.1 583.8M719.6 575.9L713.1 583.8L711.3 573.7M718.3 582.1L713.8 602.2M720.1 594.1L713.8 602.2L711.6 592.1M718.3 600.3L714.0 620.6M720.2 612.3L714.0 620.6L711.7 610.5M718.3 618.5L714.1 639.3M720.4 630.8L714.1 639.3L711.6 629.0M718.3 636.7L714.2 658.1M720.6 649.2L714.2 658.1L711.6 647.5M718.3 654.9L714.5 676.4M720.8 667.4L714.5 676.4L711.7 665.8M718.3 673.0L714.8 694.9M721.0 685.8L714.8 694.9L711.8 684.3M718.3 691.2L715.4 713.8M721.5 704.2L715.4 713.8L711.9 703.0M718.3 709.4L716.7 732.8M722.4 722.5L716.7 732.8L712.5 721.9M718.3 727.5L717.0 751.3M722.6 740.8L717.0 751.3L712.6 740.3M718.3 745.7L717.3 770.9M723.1 759.7L717.3 770.9L712.4 759.3M718.3 763.9L717.3 788.6M723.0 777.6L717.3 788.6L712.5 777.2M736.5 73.2L723.4 84.7M731.8 82.3L723.4 84.7L726.9 76.7M736.5 91.4L723.6 103.0M731.9 100.5L723.6 103.0L727.0 95.0M736.5 109.6L723.8 121.2M732.0 118.6L723.8 121.2L727.1 113.3M736.5 127.8L724.9 138.6M732.4 136.1L724.9 138.6L727.9 131.2M736.5 146.0L724.7 156.1M732.2 154.0L724.7 156.1L727.9 149.0M736.5 164.1L724.2 173.9M731.9 172.1L724.2 173.9L727.7 166.9M736.5 182.3L723.1 192.2M731.3 190.5L723.1 192.2L727.1 184.9M736.5 200.5L721.0 211.0M730.2 209.5L721.0 211.0L725.8 203.0M736.5 218.7L719.4 229.3M729.4 228.1L719.4 229.3L724.9 220.9M736.5 236.8L719.5 247.9M729.6 246.5L719.5 247.9L724.9 239.3M736.5 255.0L719.9 266.4M729.8 264.7L719.9 266.4L725.0 257.7M736.5 273.2L721.1 284.2M730.4 282.4L721.1 284.2L725.8 275.9M736.5 291.4L721.5 302.6M730.7 300.7L721.5 302.6L725.9 294.3M736.5 309.5L721.8 321.0M730.9 318.9L721.8 321.0L726.0 312.7M736.5 327.7L722.1 340.2M731.3 337.6L722.1 340.2L726.0 331.5M736.5 345.9L722.0 359.9M731.5 356.6L722.0 359.9L725.6 350.5M736.5 364.1L722.5 379.0M732.0 375.2L722.5 379.0L725.7 369.3M736.5 382.2L723.3 397.9M732.6 393.6L723.3 397.9L726.0 388.0M736.5 400.4L724.3 416.6M733.3 411.8L724.3 416.6L726.4 406.7M736.5 418.6L725.0 435.3M733.8 430.2L725.0 435.3L726.7 425.3M736.5 436.8L725.8 454.1M734.3 448.5L725.8 454.1L727.0 444.0M736.5 454.9L726.6 472.7M734.8 466.8L726.6 472.7L727.3 462.6M736.5 473.1L727.4 491.3M735.4 485.0L727.4 491.3L727.7 481.1M736.5 491.3L728.2 509.9M735.9 503.2L728.2 509.9L728.0 499.7M736.5 509.4L728.9 528.4M736.3 521.4L728.9 528.4L728.3 518.2M736.5 527.6L729.5 546.8M736.7 539.6L729.5 546.8L728.6 536.6M736.5 545.8L730.2 565.2M737.2 557.7L730.2 565.2L729.0 555.1M736.5 564.0L730.9 583.6M737.6 575.9L730.9 583.6L729.3 573.5M736.5 582.1L731.6 601.9M738.0 594.0L731.6 601.9L729.6 591.9M736.5 600.3L731.8 620.1M738.1 612.1L731.8 620.1L729.8 610.1M736.5 618.5L732.0 638.5M738.3 630.4L732.0 638.5L729.8 628.5M736.5 636.7L732.2 656.9M738.4 648.6L732.2 656.9L729.9 646.8M736.5 654.9L732.5 675.3M738.6 666.9L732.5 675.3L730.0 665.2M736.5 673.0L732.7 694.4M739.0 685.5L732.7 694.4L729.9 683.9M736.5 691.2L733.4 713.1M739.4 703.8L733.4 713.1L730.2 702.5M736.5 709.4L734.5 732.6M740.3 722.5L734.5 732.6L730.5 721.6M736.5 727.5L734.8 751.2M740.6 740.8L734.8 751.2L730.6 740.1M736.5 745.7L735.2 770.8M741.1 759.7L735.2 770.8L730.5 759.2M736.5 763.9L735.2 788.5M741.0 777.6L735.2 788.5L730.6 777.1M754.7 55.1L741.4 66.3M749.8 64.0L741.4 66.3L745.1 58.4M754.7 73.2L741.5 84.6M749.9 82.3L741.5 84.6L745.0 76.7M754.7 91.4L741.6 102.9M750.0 100.4L741.6 102.9L745.1 94.9M754.7 109.6L742.0 121.0M750.1 118.5L742.0 121.0L745.3 113.1M754.7 127.8L743.0 138.4M750.6 136.1L743.0 138.4L746.1 131.1M754.7 146.0L742.7 156.0M750.3 154.0L742.7 156.0L746.0 148.9M754.7 164.1L742.1 173.9M749.9 172.1L742.1 173.9L745.8 166.8M754.7 182.3L740.4 192.5M749.0 190.9L740.4 192.5L744.7 184.9M754.7 200.5L738.5 211.1M748.1 209.7L738.5 211.1L743.6 202.9M754.7 218.7L738.3 228.5M747.8 227.5L738.3 228.5L743.6 220.6M754.7 236.8L738.5 247.0M748.0 245.8L738.5 247.0L743.7 239.0M754.7 255.0L739.0 265.4M748.3 264.0L739.0 265.4L743.9 257.4M754.7 273.2L740.2 283.3M748.9 281.8L740.2 283.3L744.6 275.6M754.7 291.4L740.5 301.7M749.1 300.0L740.5 301.7L744.8 294.0M754.7 309.5L740.6 320.3M749.3 318.4L740.6 320.3L744.7 312.4M754.7 327.7L740.5 339.8M749.5 337.3L740.5 339.8L744.4 331.3M754.7 345.9L740.7 359.2M749.9 356.1L740.7 359.2L744.3 350.2M754.7 364.1L740.9 378.7M750.2 375.0L740.9 378.7L744.0 369.2M754.7 382.2L741.6 397.7M750.8 393.4L741.6 397.7L744.3 387.9M754.7 400.4L742.8 416.2M751.5 411.6L742.8 416.2L744.8 406.5M754.7 418.6L743.5 434.8M752.0 429.8L743.5 434.8L745.2 425.1M754.7 436.8L744.3 453.5M752.5 448.1L744.3 453.5L745.5 443.7M754.7 454.9L745.0 472.1M753.0 466.4L745.0 472.1L745.8 462.3M754.7 473.1L745.8 490.7M753.5 484.6L745.8 490.7L746.1 480.8M754.7 491.3L746.6 509.2M754.1 502.8L746.6 509.2L746.5 499.4M754.7 509.4L747.2 527.7M754.5 521.0L747.2 527.7L746.8 517.8M754.7 527.6L747.9 546.1M754.9 539.2L747.9 546.1L747.1 536.3M754.7 545.8L748.5 564.5M755.3 557.3L748.5 564.5L747.4 554.7M754.7 564.0L749.2 582.8M755.7 575.4L749.2 582.8L747.7 573.1M754.7 582.1L750.0 600.7M756.0 593.3L750.0 600.7L748.2 591.3M754.7 600.3L750.2 619.0M756.2 611.5L750.2 619.0L748.3 609.6M754.7 618.5L750.3 637.7M756.4 629.9L750.3 637.7L748.2 628.1M754.7 636.7L750.5 656.5M756.6 648.4L750.5 656.5L748.2 646.6M754.7 654.9L750.8 674.8M756.8 666.6L750.8 674.8L748.3 664.9M754.7 673.0L751.1 693.2M757.0 684.8L751.1 693.2L748.5 683.3M754.7 691.2L751.8 711.8M757.4 703.1L751.8 711.8L748.7 701.9M754.7 709.4L752.8 731.2M758.2 721.7L752.8 731.2L749.0 720.9M754.7 727.5L753.1 750.4M758.6 740.4L753.1 750.4L749.0 739.7M754.7 745.7L753.4 770.1M759.1 759.3L753.4 770.1L748.8 758.8M754.7 763.9L753.4 788.4M759.1 777.5L753.4 788.4L748.8 777.0M772.9 36.9L759.4 47.9M767.8 45.7L759.4 47.9L763.2 40.1M772.9 55.1L759.4 66.2M767.9 64.0L759.4 66.2L763.2 58.3M772.9 73.2L759.2 84.8M767.8 82.5L759.2 84.8L762.9 76.7M772.9 91.4L759.7 102.7M768.1 100.4L759.7 102.7L763.3 94.8M772.9 109.6L760.4 120.5M768.4 118.2L760.4 120.5L763.7 112.9M772.9 127.8L761.1 138.3M768.6 136.0L761.1 138.3L764.2 131.0M772.9 146.0L760.7 156.0M768.3 154.0L760.7 156.0L764.1 148.9M772.9 164.1L759.5 174.2M767.7 172.5L759.5 174.2L763.4 166.8M772.9 182.3L757.4 193.0M766.7 191.4L757.4 193.0L762.2 184.9M772.9 200.5L755.9 211.2M765.9 209.9L755.9 211.2L761.3 202.8M772.9 218.7L756.3 228.2M765.8 227.4L756.3 228.2L761.8 220.4M772.9 236.8L756.8 246.6M766.2 245.5L756.8 246.6L762.0 238.8M772.9 255.0L757.6 264.8M766.6 263.6L757.6 264.8L762.4 257.1M772.9 273.2L758.4 282.9M767.0 281.6L758.4 282.9L762.9 275.5M772.9 291.4L758.7 301.4M767.2 299.8L758.7 301.4L763.0 293.9M772.9 309.5L758.9 320.0M767.4 318.2L758.9 320.0L763.0 312.3M772.9 327.7L758.9 339.4M767.7 337.1L758.9 339.4L762.7 331.2M772.9 345.9L759.1 358.8M768.1 355.8L759.1 358.8L762.6 350.0M772.9 364.1L759.7 377.9M768.6 374.4L759.7 377.9L762.7 368.8M772.9 382.2L760.5 396.8M769.2 392.8L760.5 396.8L763.0 387.6M772.9 400.4L761.4 415.6M769.8 411.1L761.4 415.6L763.4 406.3M772.9 418.6L762.1 434.2M770.3 429.4L762.1 434.2L763.7 424.9M772.9 436.8L762.8 452.9M770.8 447.7L762.8 452.9L763.9 443.4M772.9 454.9L763.5 471.5M771.2 465.9L763.5 471.5L764.2 462.0M772.9 473.1L764.2 490.0M771.7 484.2L764.2 490.0L764.6 480.5M772.9 491.3L765.0 508.6M772.2 502.4L765.0 508.6L764.9 499.1M772.9 509.4L765.6 527.0M772.6 520.6L765.6 527.0L765.2 517.5M772.9 527.6L766.2 545.4M773.0 538.8L766.2 545.4L765.5 536.0M772.9 545.8L766.9 563.8M773.4 556.9L766.9 563.8L765.8 554.4M772.9 564.0L767.5 582.2M773.8 575.1L767.5 582.2L766.1 572.8M772.9 582.1L768.2 600.4M774.1 593.1L768.2 600.4L766.4 591.1M772.9 600.3L768.4 618.6M774.3 611.2L768.4 618.6L766.6 609.4M772.9 618.5L768.7 636.9M774.4 629.4L768.7 636.9L766.7 627.7M772.9 636.7L768.9 655.3M774.6 647.7L768.9 655.3L766.8 646.0M772.9 654.9L769.2 673.5M774.8 665.8L769.2 673.5L766.9 664.3M772.9 673.0L769.5 692.0M775.0 684.1L769.5 692.0L767.0 682.7M772.9 691.2L770.0 711.2M775.5 702.7L770.0 711.2L767.1 701.5M772.9 709.4L771.0 730.1M776.2 721.1L771.0 730.1L767.5 720.3M772.9 727.5L771.3 749.4M776.6 739.8L771.3 749.4L767.4 739.2M772.9 745.7L771.6 769.1M777.1 758.7L771.6 769.1L767.2 758.2M772.9 763.9L771.6 787.5M777.2 777.1L771.6 787.5L767.2 776.5M791.0 36.9L777.5 47.8M785.9 45.7L777.5 47.8L781.3 40.0M791.0 55.1L777.5 66.1M786.0 64.0L777.5 66.1L781.3 58.3M791.0 73.2L777.2 84.8M785.9 82.5L777.2 84.8L781.0 76.6M791.0 91.4L777.8 102.6M786.2 100.4L777.8 102.6L781.4 94.8M791.0 109.6L778.5 120.4M786.4 118.2L778.5 120.4L781.9 112.9M791.0 127.8L778.7 138.6M786.6 136.3L778.7 138.6L782.0 131.1M791.0 146.0L778.1 156.3M786.2 154.3L778.1 156.3L781.8 148.9M791.0 164.1L776.5 174.8M785.3 173.0L776.5 174.8L780.8 166.9M791.0 182.3L774.8 193.2M784.4 191.7L774.8 193.2L779.8 184.8M791.0 200.5L773.7 211.1M783.8 209.9L773.7 211.1L779.3 202.6M791.0 218.7L774.4 227.8M783.9 227.2L774.4 227.8L780.0 220.2M791.0 236.8L775.3 246.0M784.4 245.2L775.3 246.0L780.5 238.6M791.0 255.0L776.2 264.2M784.9 263.2L776.2 264.2L781.0 256.9M791.0 273.2L776.5 282.7M785.1 281.5L776.5 282.7L781.1 275.3M791.0 291.4L776.8 301.2M785.3 299.8L776.8 301.2L781.1 293.7M791.0 309.5L777.0 319.8M785.5 318.1L777.0 319.8L781.2 312.2M791.0 327.7L777.0 339.2M785.8 337.0L777.0 339.2L780.9 331.1M791.0 345.9L777.2 358.7M786.2 355.8L777.2 358.7L780.8 350.0M791.0 364.1L778.0 377.7M786.8 374.3L778.0 377.7L781.0 368.8M791.0 382.2L778.8 396.6M787.4 392.7L778.8 396.6L781.3 387.5M791.0 400.4L779.6 415.5M788.0 411.1L779.6 415.5L781.6 406.3M791.0 418.6L780.3 434.2M788.5 429.4L780.3 434.2L781.9 424.8M791.0 436.8L781.0 452.8M788.9 447.6L781.0 452.8L782.1 443.4M791.0 454.9L781.7 471.4M789.4 465.9L781.7 471.4L782.4 462.0M791.0 473.1L782.4 489.9M789.9 484.1L782.4 489.9L782.8 480.5M791.0 491.3L783.2 508.5M790.4 502.3L783.2 508.5L783.1 499.0M791.0 509.4L783.8 526.9M790.7 520.5L783.8 526.9L783.4 517.5M791.0 527.6L784.4 545.3M791.1 538.7L784.4 545.3L783.6 535.9M791.0 545.8L785.0 563.7M791.5 556.9L785.0 563.7L783.9 554.3M791.0 564.0L785.6 582.0M791.9 575.0L785.6 582.0L784.3 572.7M791.0 582.1L786.4 599.8M792.2 592.7L786.4 599.8L784.8 590.8M791.0 600.3L786.9 617.4M792.3 610.5L786.9 617.4L785.1 608.8M791.0 618.5L787.1 635.6M792.5 628.7L787.1 635.6L785.3 627.0M791.0 636.7L787.3 654.4M792.7 647.2L787.3 654.4L785.2 645.6M791.0 654.9L787.5 672.8M792.9 665.4L787.5 672.8L785.3 663.9M791.0 673.0L787.8 691.6M793.2 683.9L787.8 691.6L785.3 682.5M791.0 691.2L788.4 710.2M793.6 702.1L788.4 710.2L785.6 701.0M791.0 709.4L789.3 729.6M794.3 720.8L789.3 729.6L785.8 720.1M791.0 727.5L789.6 748.2M794.6 739.2L789.6 748.2L785.9 738.5M791.0 745.7L789.9 767.8M795.1 758.0L789.9 767.8L785.7 757.5M791.0 763.9L789.8 786.7M795.2 776.6L789.8 786.7L785.6 776.1"/></g>
<g shape-rendering="crispEdges" stroke="#808080" stroke-width="1"><line x1="9.5" y1="28" x2="9.5" y2="772"/><line x1="81.5" y1="28" x2="81.5" y2="772"/><line x1="154.5" y1="28" x2="154.5" y2="772"/><line x1="227.5" y1="28" x2="227.5" y2="772"/><line x1="299.5" y1="28" x2="299.5" y2="772"/><line x1="372.5" y1="28" x2="372.5" y2="772"/><line x1="445.5" y1="28" x2="445.5" y2="772"/><line x1="518.5" y1="28" x2="518.5" y2="772"/><line x1="590.5" y1="28" x2="590.5" y2="772"/><line x1="663.5" y1="28" x2="663.5" y2="772"/><line x1="736.5" y1="28" x2="736.5" y2="772"/><line x1="1" y1="36.5" x2="800" y2="36.5"/><line x1="1" y1="109.5" x2="800" y2="109.5"/><line x1="1" y1="181.5" x2="800" y2="181.5"/><line x1="1" y1="254.5" x2="800" y2="254.5"/><line x1="1" y1="327.5" x2="800" y2="327.5"/><line x1="1" y1="400.5" x2="800" y2="400.5"/><line x1="1" y1="472.5" x2="800" y2="472.5"/><line x1="1" y1="545.5" x2="800" y2="545.5"/><line x1="1" y1="618.5" x2="800" y2="618.5"/><line x1="1" y1="690.5" x2="800" y2="690.5"/><line x1="1" y1="763.5" x2="800" y2="763.5"/></g>
<g class="g"><text x="792.5" y="105" text-anchor="end">32S</text><text x="792.5" y="177" text-anchor="end">33S</text><text x="792.5" y="250" text-anchor="end">34S</text><text x="792.5" y="323" text-anchor="end">35S</text><text x="792.5" y="396" text-anchor="end">36S</text><text x="792.5" y="468" text-anchor="end">37S</text><text x="792.5" y="541" text-anchor="end">38S</text><text x="792.5" y="614" text-anchor="end">39S</text><text x="792.5" y="686" text-anchor="end">40S</text><text x="792.5" y="759" text-anchor="end">41S</text><text transform="translate(14,743.5) rotate(90)" textLength="21.5" lengthAdjust="spacingAndGlyphs">61W</text><text transform="translate(86,743.5) rotate(90)" textLength="21.5" lengthAdjust="spacingAndGlyphs">60W</text><text transform="translate(159,743.5) rotate(90)" textLength="21.5" lengthAdjust="spacingAndGlyphs">59W</text><text transform="translate(232,743.5) rotate(90)" textLength="21.5" lengthAdjust="spacingAndGlyphs">58W</text><text transform="translate(304,743.5) rotate(90)" textLength="21.5" lengthAdjust="spacingAndGlyphs">57W</text><text transform="translate(377,743.5) rotate(90)" textLength="21.5" lengthAdjust="spacingAndGlyphs">56W</text><text transform="translate(450,743.5) rotate(90)" textLength="21.5" lengthAdjust="spacingAndGlyphs">55W</text><text transform="translate(523,743.5) rotate(90)" textLength="21.5" lengthAdjust="spacingAndGlyphs">54W</text><text transform="translate(595,743.5) rotate(90)" textLength="21.5" lengthAdjust="spacingAndGlyphs">53W</text><text transform="translate(668,743.5) rotate(90)" textLength="21.5" lengthAdjust="spacingAndGlyphs">52W</text><text transform="translate(741,743.5) rotate(90)" textLength="21.5" lengthAdjust="spacingAndGlyphs">51W</text></g>
<g shape-rendering="crispEdges" stroke="#000" stroke-width="1" fill="none"><path d="M0.5 773V27.5H800"/><path d="M1.5 28v4M1.5 773v-5M1 29.5h3M800 29.5h-5M9.5 28v17M9.5 773v-17M1 36.5h17M800 36.5h-18M16.5 28v4M16.5 773v-5M1 43.5h3M800 43.5h-5M23.5 28v4M23.5 773v-5M1 51.5h3M800 51.5h-5M30.5 28v4M30.5 773v-5M1 58.5h3M800 58.5h-5M38.5 28v4M38.5 773v-5M1 65.5h3M800 65.5h-5M45.5 28v9M45.5 773v-9M1 72.5h8M800 72.5h-9M52.5 28v4M52.5 773v-5M1 80.5h3M800 80.5h-5M60.5 28v4M60.5 773v-5M1 87.5h3M800 87.5h-5M67.5 28v4M67.5 773v-5M1 94.5h3M800 94.5h-5M74.5 28v4M74.5 773v-5M1 101.5h3M800 101.5h-5M81.5 28v17M81.5 773v-17M1 109.5h17M800 109.5h-18M89.5 28v4M89.5 773v-5M1 116.5h3M800 116.5h-5M96.5 28v4M96.5 773v-5M1 123.5h3M800 123.5h-5M103.5 28v4M103.5 773v-5M1 131.5h3M800 131.5h-5M110.5 28v4M110.5 773v-5M1 138.5h3M800 138.5h-5M118.5 28v9M118.5 773v-9M1 145.5h8M800 145.5h-9M125.5 28v4M125.5 773v-5M1 152.5h3M800 152.5h-5M132.5 28v4M132.5 773v-5M1 160.5h3M800 160.5h-5M139.5 28v4M139.5 773v-5M1 167.5h3M800 167.5h-5M147.5 28v4M147.5 773v-5M1 174.5h3M800 174.5h-5M154.5 28v17M154.5 773v-17M1 181.5h17M800 181.5h-18M161.5 28v4M161.5 773v-5M1 189.5h3M800 189.5h-5M169.5 28v4M169.5 773v-5M1 196.5h3M800 196.5h-5M176.5 28v4M176.5 773v-5M1 203.5h3M800 203.5h-5M183.5 28v4M183.5 773v-5M1 211.5h3M800 211.5h-5M190.5 28v9M190.5 773v-9M1 218.5h8M800 218.5h-9M198.5 28v4M198.5 773v-5M1 225.5h3M800 225.5h-5M205.5 28v4M205.5 773v-5M1 232.5h3M800 232.5h-5M212.5 28v4M212.5 773v-5M1 240.5h3M800 240.5h-5M219.5 28v4M219.5 773v-5M1 247.5h3M800 247.5h-5M227.5 28v17M227.5 773v-17M1 254.5h17M800 254.5h-18M234.5 28v4M234.5 773v-5M1 261.5h3M800 261.5h-5M241.5 28v4M241.5 773v-5M1 269.5h3M800 269.5h-5M249.5 28v4M249.5 773v-5M1 276.5h3M800 276.5h-5M256.5 28v4M256.5 773v-5M1 283.5h3M800 283.5h-5M263.5 28v9M263.5 773v-9M1 291.5h8M800 291.5h-9M270.5 28v4M270.5 773v-5M1 298.5h3M800 298.5h-5M278.5 28v4M278.5 773v-5M1 305.5h3M800 305.5h-5M285.5 28v4M285.5 773v-5M1 312.5h3M800 312.5h-5M292.5 28v4M292.5 773v-5M1 320.5h3M800 320.5h-5M299.5 28v17M299.5 773v-17M1 327.5h17M800 327.5h-18M307.5 28v4M307.5 773v-5M1 334.5h3M800 334.5h-5M314.5 28v4M314.5 773v-5M1 341.5h3M800 341.5h-5M321.5 28v4M321.5 773v-5M1 349.5h3M800 349.5h-5M329.5 28v4M329.5 773v-5M1 356.5h3M800 356.5h-5M336.5 28v9M336.5 773v-9M1 363.5h8M800 363.5h-9M343.5 28v4M343.5 773v-5M1 370.5h3M800 370.5h-5M350.5 28v4M350.5 773v-5M1 378.5h3M800 378.5h-5M358.5 28v4M358.5 773v-5M1 385.5h3M800 385.5h-5M365.5 28v4M365.5 773v-5M1 392.5h3M800 392.5h-5M372.5 28v17M372.5 773v-17M1 400.5h17M800 400.5h-18M379.5 28v4M379.5 773v-5M1 407.5h3M800 407.5h-5M387.5 28v4M387.5 773v-5M1 414.5h3M800 414.5h-5M394.5 28v4M394.5 773v-5M1 421.5h3M800 421.5h-5M401.5 28v4M401.5 773v-5M1 429.5h3M800 429.5h-5M408.5 28v9M408.5 773v-9M1 436.5h8M800 436.5h-9M416.5 28v4M416.5 773v-5M1 443.5h3M800 443.5h-5M423.5 28v4M423.5 773v-5M1 450.5h3M800 450.5h-5M430.5 28v4M430.5 773v-5M1 458.5h3M800 458.5h-5M438.5 28v4M438.5 773v-5M1 465.5h3M800 465.5h-5M445.5 28v17M445.5 773v-17M1 472.5h17M800 472.5h-18M452.5 28v4M452.5 773v-5M1 480.5h3M800 480.5h-5M459.5 28v4M459.5 773v-5M1 487.5h3M800 487.5h-5M467.5 28v4M467.5 773v-5M1 494.5h3M800 494.5h-5M474.5 28v4M474.5 773v-5M1 501.5h3M800 501.5h-5M481.5 28v9M481.5 773v-9M1 509.5h8M800 509.5h-9M488.5 28v4M488.5 773v-5M1 516.5h3M800 516.5h-5M496.5 28v4M496.5 773v-5M1 523.5h3M800 523.5h-5M503.5 28v4M503.5 773v-5M1 530.5h3M800 530.5h-5M510.5 28v4M510.5 773v-5M1 538.5h3M800 538.5h-5M518.5 28v17M518.5 773v-17M1 545.5h17M800 545.5h-18M525.5 28v4M525.5 773v-5M1 552.5h3M800 552.5h-5M532.5 28v4M532.5 773v-5M1 559.5h3M800 559.5h-5M539.5 28v4M539.5 773v-5M1 567.5h3M800 567.5h-5M547.5 28v4M547.5 773v-5M1 574.5h3M800 574.5h-5M554.5 28v9M554.5 773v-9M1 581.5h8M800 581.5h-9M561.5 28v4M561.5 773v-5M1 589.5h3M800 589.5h-5M568.5 28v4M568.5 773v-5M1 596.5h3M800 596.5h-5M576.5 28v4M576.5 773v-5M1 603.5h3M800 603.5h-5M583.5 28v4M583.5 773v-5M1 610.5h3M800 610.5h-5M590.5 28v17M590.5 773v-17M1 618.5h17M800 618.5h-18M597.5 28v4M597.5 773v-5M1 625.5h3M800 625.5h-5M605.5 28v4M605.5 773v-5M1 632.5h3M800 632.5h-5M612.5 28v4M612.5 773v-5M1 639.5h3M800 639.5h-5M619.5 28v4M619.5 773v-5M1 647.5h3M800 647.5h-5M627.5 28v9M627.5 773v-9M1 654.5h8M800 654.5h-9M634.5 28v4M634.5 773v-5M1 661.5h3M800 661.5h-5M641.5 28v4M641.5 773v-5M1 669.5h3M800 669.5h-5M648.5 28v4M648.5 773v-5M1 676.5h3M800 676.5h-5M656.5 28v4M656.5 773v-5M1 683.5h3M800 683.5h-5M663.5 28v17M663.5 773v-17M1 690.5h17M800 690.5h-18M670.5 28v4M670.5 773v-5M1 698.5h3M800 698.5h-5M677.5 28v4M677.5 773v-5M1 705.5h3M800 705.5h-5M685.5 28v4M685.5 773v-5M1 712.5h3M800 712.5h-5M692.5 28v4M692.5 773v-5M1 719.5h3M800 719.5h-5M699.5 28v9M699.5 773v-9M1 727.5h8M800 727.5h-9M707.5 28v4M707.5 773v-5M1 734.5h3M800 734.5h-5M714.5 28v4M714.5 773v-5M1 741.5h3M800 741.5h-5M721.5 28v4M721.5 773v-5M1 749.5h3M800 749.5h-5M728.5 28v4M728.5 773v-5M1 756.5h3M800 756.5h-5M736.5 28v17M736.5 773v-17M1 763.5h17M800 763.5h-18M743.5 28v4M743.5 773v-5M1 770.5h3M800 770.5h-5M750.5 28v4M750.5 773v-5M757.5 28v4M757.5 773v-5M765.5 28v4M765.5 773v-5M772.5 28v9M772.5 773v-9M779.5 28v4M779.5 773v-5M787.5 28v4M787.5 773v-5M794.5 28v4M794.5 773v-5"/></g>
<g class="t"><text x="4.3" y="49.3" textLength="385.0" lengthAdjust="spacingAndGlyphs">modelo GEFS-WAVE (NCEP)</text><text x="6.0" y="72.9" textLength="198.0" lengthAdjust="spacingAndGlyphs">forecast date:</text><text x="212.5" y="72.9" textLength="287.5" lengthAdjust="spacingAndGlyphs">2024-03-12 12:00:00</text><text x="40.3" y="95.8" textLength="154.0" lengthAdjust="spacingAndGlyphs">valid date:</text><text x="202.6" y="95.8" textLength="286.5" lengthAdjust="spacingAndGlyphs">2024-03-23 12:00:00</text></g>
<g fill="none" stroke="#000" stroke-width="0.9" shape-rendering="crispEdges" clip-path="url(#cp)"><polyline points="235.0,28.0 235.0,50.5 230.3,59.0 224.7,68.3 227.5,76.8 225.6,86.0 224.7,94.6 214.4,98.3 212.5,101.0 216.3,106.8 216.6,114.3 213.4,119.9 220.4,130.2 211.6,142.4 211.6,155.5 214.4,170.5 216.3,170.0 217.2,177.5 215.3,184.0 214.4,187.8 204.0,188.8 197.5,187.3 195.6,188.8 196.6,196.3 195.6,203.8 190.9,209.4 188.1,218.8 187.2,231.9 190.0,239.4 193.8,245.0 194.7,254.4 198.4,258.0 199.4,263.8 196.6,272.2 192.8,274.0 185.3,275.0 190.9,277.8 194.7,280.6 190.9,284.4 191.9,290.0 197.5,293.8 204.0,299.4 210.6,306.0 218.1,309.7 227.5,312.5 236.9,315.3 248.0,320.5 259.3,327.3 270.7,336.4 282.0,345.5 288.9,354.6 290.7,359.0 286.6,366.0 279.8,372.8 275.3,381.9 273.0,391.0 274.1,400.0 279.8,409.2 288.9,418.3 298.0,424.0 304.8,427.0 312.8,424.7 317.4,422.4 319.6,425.0 321.2,434.2 324.2,450.0 324.9,463.8 320.8,470.6 311.7,479.7 304.8,488.8 298.0,500.2 288.9,511.6 277.5,519.5 268.4,527.5 262.8,534.3 260.5,543.4 261.2,550.2 257.0,556.0 248.0,560.5 236.6,566.2 227.5,570.7 219.5,574.0 204.7,579.8 191.0,583.2 182.0,586.4 163.8,590.0 150.0,595.7 127.4,599.2 109.2,602.0 97.8,606.0 81.2,607.6 31.8,614.0 9.0,616.0 0.0,617.8"/><polyline points="211.6,142.4 216.3,157.4 217.8,167.7 223.8,173.3 223.8,178.4 221.0,185.0 216.3,188.8 210.6,189.7 201.3,189.7 200.0,194.4 200.9,203.8 196.6,210.3 199.4,215.0 195.6,220.6 194.7,231.9 196.6,244.0 199.4,250.6 205.0,255.3 211.6,264.7 218.1,266.6 224.7,272.2 234.0,281.6 237.8,289.0 244.4,288.0 255.6,285.3 262.2,287.2 268.8,285.3 280.0,286.3 289.4,288.0 298.8,293.8 309.4,301.1 327.6,306.8 341.2,310.2 344.7,312.5 343.5,315.9 350.3,320.5 357.2,319.3 364.0,320.7 373.1,317.0 384.5,311.4 393.6,310.2 402.7,310.9 418.6,312.5 424.3,318.2 430.0,320.5 439.0,319.3 444.8,321.6 449.3,325.0 455.0,321.6 473.2,314.8 491.4,308.0 497.1,305.7 498.2,302.3 493.7,301.1 494.8,298.9 498.2,296.6 494.8,295.4 500.0,296.6 500.5,302.3 506.2,303.4 509.6,297.7 521.0,289.8 534.6,281.8 533.5,277.2 536.9,271.6 540.3,267.0 546.0,263.6 550.5,260.2 554.0,254.5 556.2,240.8 560.8,236.3 554.0,231.7 551.7,228.3 552.8,209.0 551.8,202.4 551.8,194.5 554.8,187.8 561.5,182.0 568.3,178.8 569.4,174.3 576.1,168.6 582.9,162.3 579.5,158.5 572.8,154.0 561.5,150.6 550.3,141.6 543.5,133.8 542.4,124.8 537.9,118.0 535.6,113.0 528.9,111.3 525.5,106.8 518.8,104.0 512.0,100.0 507.5,102.3 502.0,97.8 493.0,88.8 484.0,78.6 475.0,73.0 466.0,69.0 454.8,66.3 445.8,59.5 436.8,57.3 426.6,52.8 421.0,44.9 417.6,37.0 407.5,28.0"/><polyline points="373.8,42.0 381.6,41.5 388.4,38.1 391.8,33.0 397.4,32.0 398.5,28.0"/><polyline points="560.8,236.3 580.0,221.5 600.6,209.0 616.5,190.8 625.6,172.6 629.6,168.0 633.1,154.0 636.6,143.5 641.0,134.8 646.3,127.8 655.0,120.8 660.3,116.4 663.8,112.0 672.5,104.1 686.5,96.3 698.8,88.4 714.5,78.8 728.5,68.3 737.3,61.3 746.0,49.0 753.0,41.1 760.0,35.0 766.0,28.0"/><polyline points="657.6,119.9 655.9,115.5 657.6,112.0 652.4,114.6 646.3,113.8 645.4,109.4 653.3,105.0 654.1,102.4 646.3,98.9 648.9,89.3 657.6,86.6 662.0,80.5 659.4,77.0 656.8,78.8 659.4,80.5 662.0,80.5 663.8,65.6 667.3,60.4 676.0,56.9 688.3,54.3 690.9,47.3 698.8,43.8 703.7,42.0 702.3,37.6 699.6,35.0 701.4,29.8 705.8,28.0"/><polyline points="659.4,117.3 662.0,113.8 662.9,105.0 660.0,98.0 665.5,98.9 672.5,98.0 676.0,94.5 680.4,94.9 690.0,89.3 698.8,81.4 702.3,78.8 703.1,81.4 704.0,73.5 705.8,72.6 707.5,74.4 714.5,73.5 719.8,69.1 724.1,61.3 725.9,54.3 724.1,45.5 726.8,42.0 733.8,40.3 736.4,41.1 736.4,45.5 739.9,42.9 739.9,40.3 737.3,38.5 737.3,29.8 740.8,28.0"/></g>
<g shape-rendering="crispEdges"><rect x="33" y="161" width="47" height="608" fill="#fff"/><path d="M32.5 773V160.5H80.5V773" fill="none" stroke="#000"/><rect x="34" y="162" width="45" height="606" fill="url(#cb)"/></g>
<g class="k"><text x="33.8" y="147.5" style="font-size:16.5px" textLength="44.5" lengthAdjust="spacing">[m/s]</text><text x="86.5" y="165" textLength="18" lengthAdjust="spacingAndGlyphs">30</text><text x="86.5" y="317" textLength="18" lengthAdjust="spacingAndGlyphs">22</text><text x="86.5" y="469" textLength="18" lengthAdjust="spacingAndGlyphs">15</text><text x="86.5" y="621" textLength="8.5" lengthAdjust="spacingAndGlyphs">8</text><text x="86.5" y="773" textLength="8.5" lengthAdjust="spacingAndGlyphs">0</text></g>
</svg></body></html>
